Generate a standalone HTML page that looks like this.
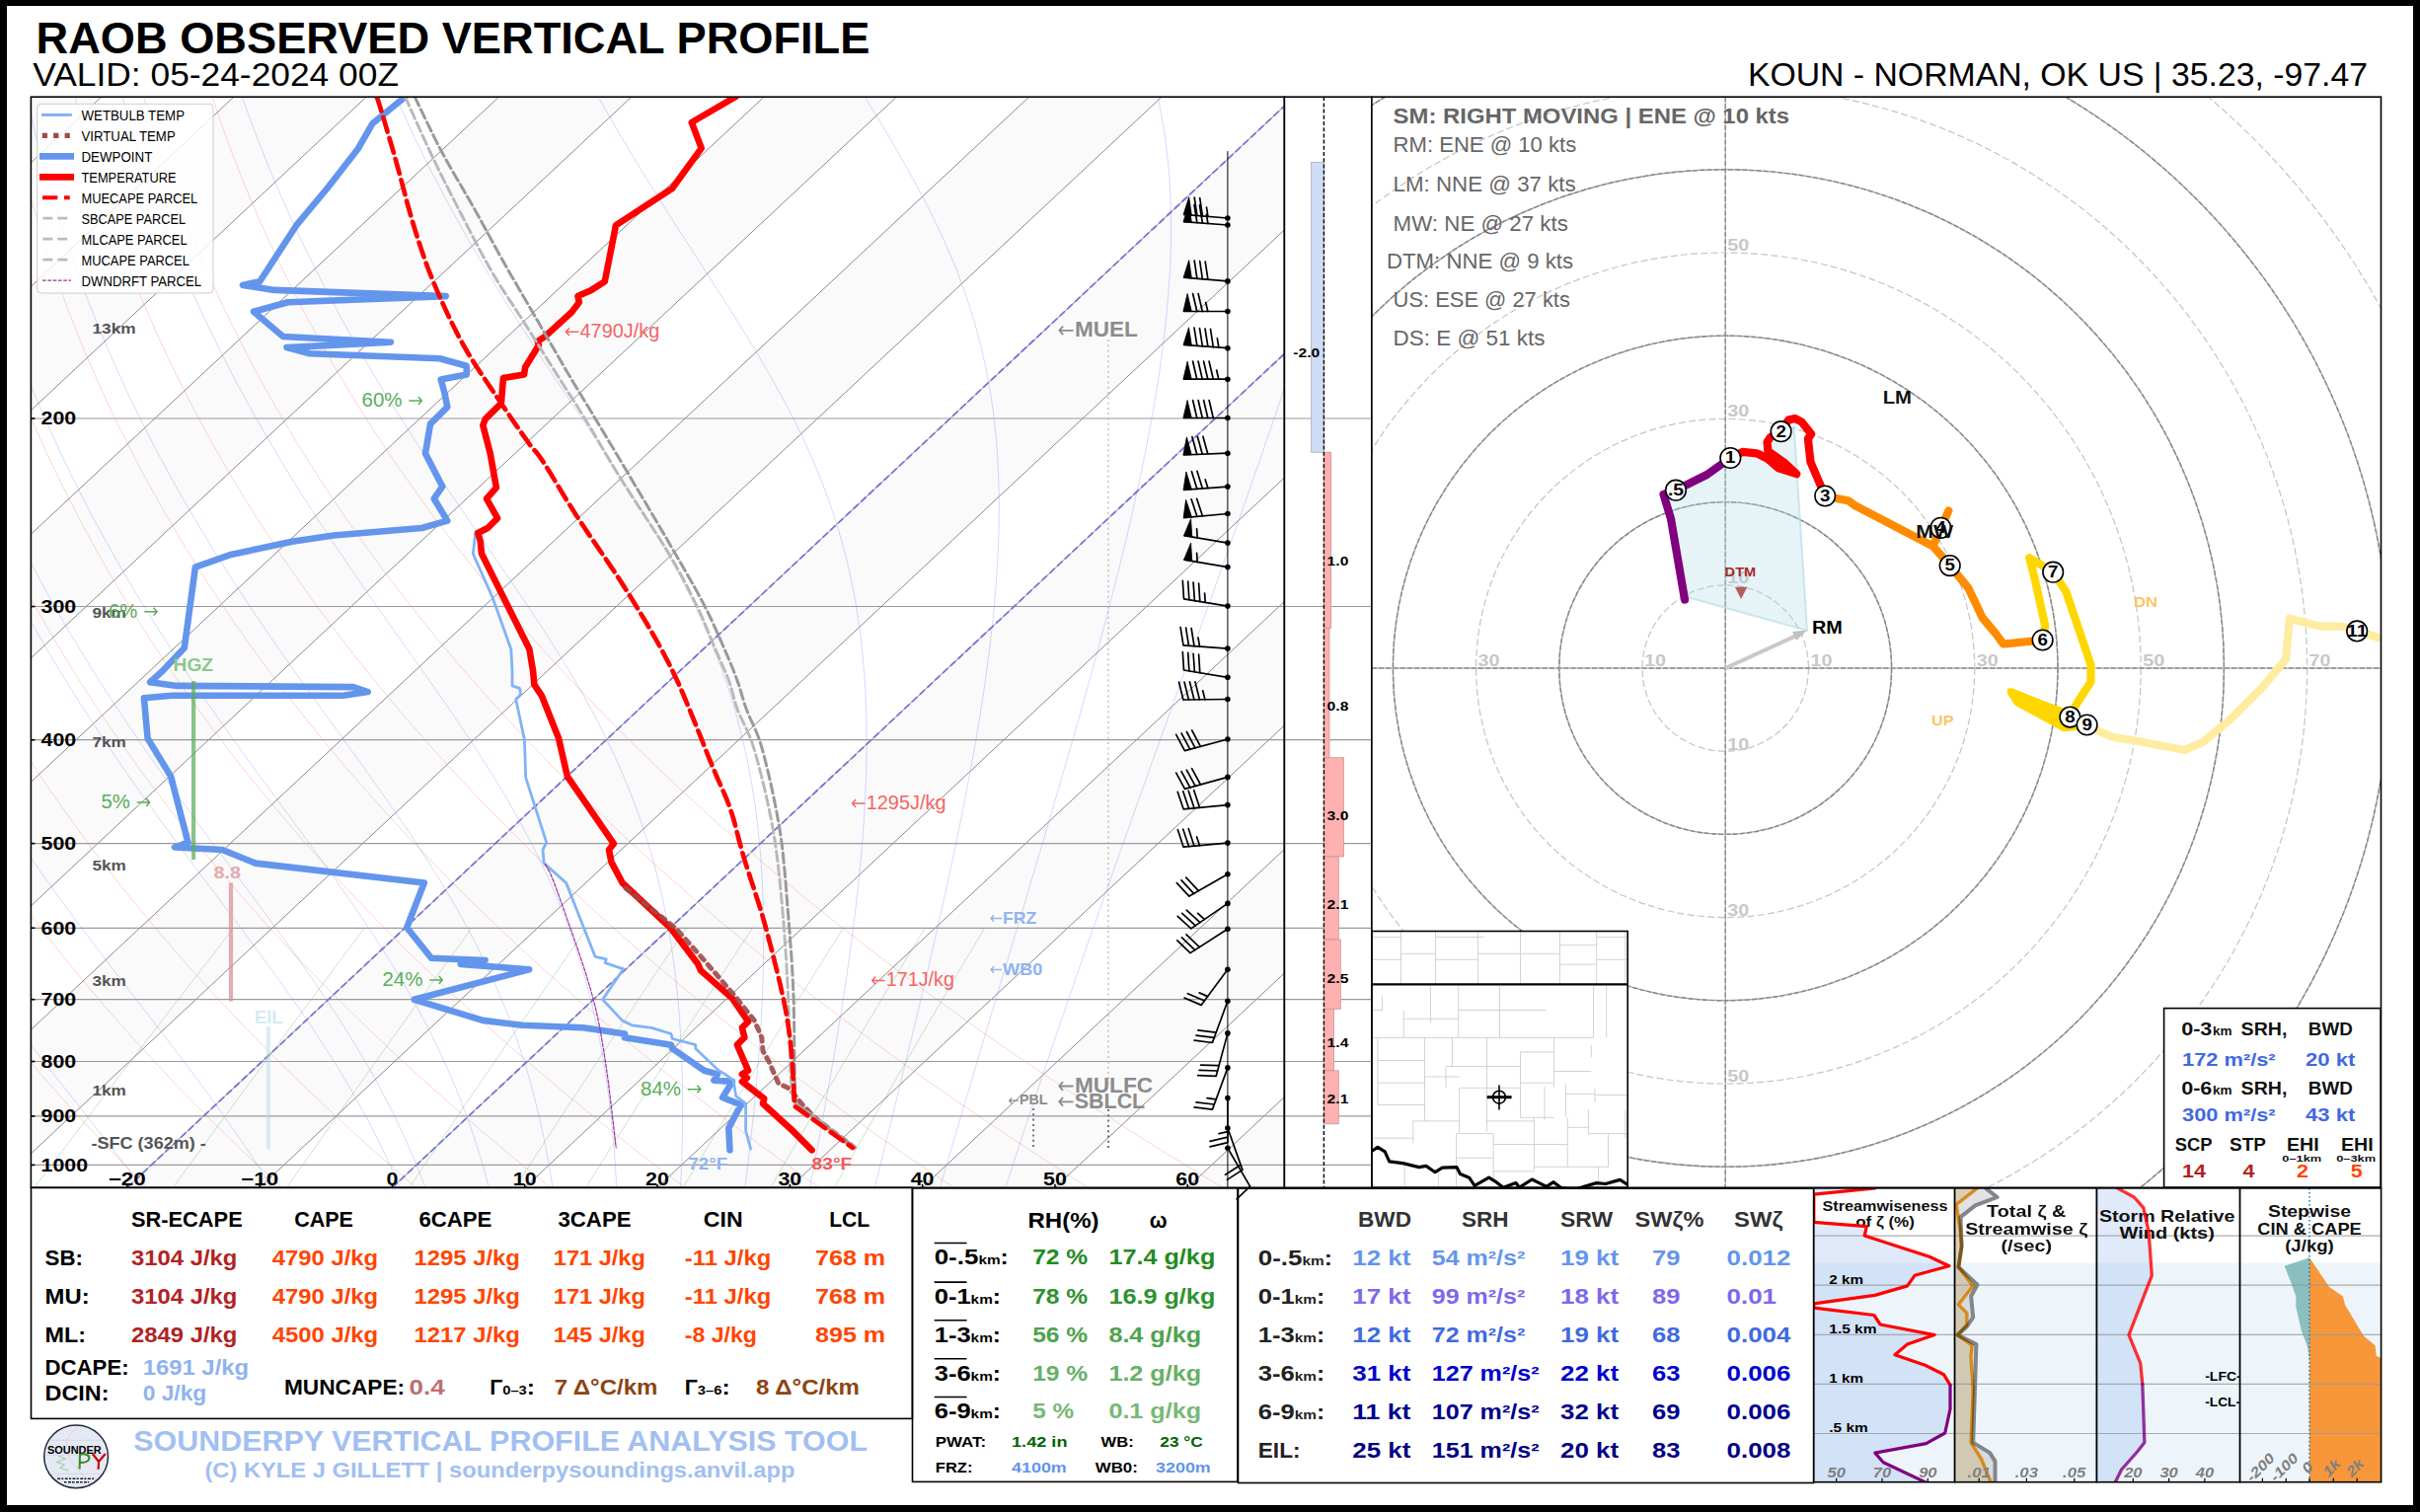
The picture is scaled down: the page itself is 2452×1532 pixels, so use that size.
<!DOCTYPE html>
<html><head><meta charset="utf-8"><title>RAOB Observed Vertical Profile</title><style>html,body{margin:0;padding:0;background:#000;overflow:hidden}svg{display:block}</style></head><body>
<svg xmlns="http://www.w3.org/2000/svg" width="2452" height="1532" viewBox="0 0 2452 1532" font-family="'Liberation Sans', sans-serif">
<rect x="0" y="0" width="2452" height="1532" fill="#000"/>
<rect x="7" y="6" width="2438" height="1519" fill="#fff"/>
<text x="36.5" y="53.8" font-size="43.53" font-weight="bold" fill="#000" textLength="844.9" lengthAdjust="spacingAndGlyphs">RAOB OBSERVED VERTICAL PROFILE</text>
<text x="33.3" y="86.9" font-size="33.29" fill="#000" textLength="370.7" lengthAdjust="spacingAndGlyphs">VALID: 05-24-2024 00Z</text>
<text x="1770.9" y="87.4" font-size="33.29" fill="#000" textLength="628.1" lengthAdjust="spacingAndGlyphs">KOUN - NORMAN, OK US | 35.23, -97.47</text>
<clipPath id="skc"><rect x="31.4" y="98.2" width="1270.0" height="1105.1"/></clipPath>
<g clip-path="url(#skc)">
<rect x="31.4" y="98.2" width="1270.0" height="1105.1" fill="#fff"/>
<polygon points="-1214.2,1203.3 -1079.9,1203.3 102.6,98.2 -31.7,98.2" fill="#fafafa"/>
<polygon points="-945.6,1203.3 -811.3,1203.3 371.2,98.2 236.9,98.2" fill="#fafafa"/>
<polygon points="-677.0,1203.3 -542.7,1203.3 639.8,98.2 505.5,98.2" fill="#fafafa"/>
<polygon points="-408.4,1203.3 -274.1,1203.3 908.4,98.2 774.1,98.2" fill="#fafafa"/>
<polygon points="-139.8,1203.3 -5.5,1203.3 1177.0,98.2 1042.7,98.2" fill="#fafafa"/>
<polygon points="128.8,1203.3 263.1,1203.3 1445.6,98.2 1311.3,98.2" fill="#fafafa"/>
<polygon points="397.4,1203.3 531.7,1203.3 1714.2,98.2 1579.9,98.2" fill="#fafafa"/>
<polygon points="666.0,1203.3 800.3,1203.3 1982.8,98.2 1848.5,98.2" fill="#fafafa"/>
<polygon points="934.6,1203.3 1068.9,1203.3 2251.4,98.2 2117.1,98.2" fill="#fafafa"/>
<polygon points="1203.2,1203.3 1337.5,1203.3 2520.0,98.2 2385.7,98.2" fill="#fafafa"/>
<polyline points="149.3,1203.3 130.9,1184.9 113.0,1166.5 95.4,1148.0 78.3,1129.6 61.6,1111.2 45.3,1092.8 29.4,1074.4 13.9,1056.0 -1.2,1037.5 -15.9,1019.1 -30.3,1000.7 -44.2,982.3 -57.8,963.9 -71.0,945.4 -83.9,927.0 -96.4,908.6 -108.5,890.2 -120.3,871.8 -131.7,853.4 -142.8,834.9 -153.5,816.5 -163.9,798.1 -174.0,779.7 -183.7,761.3 -193.1,742.8 -202.2,724.4 -210.9,706.0 -219.4,687.6 -227.5,669.2 -235.3,650.8 -242.8,632.3 -250.0,613.9 -256.9,595.5 -263.5,577.1 -269.8,558.7 -275.9,540.2 -281.6,521.8 -287.1,503.4 -292.3,485.0 -297.2,466.6 -301.8,448.1 -306.1,429.7 -310.2,411.3 -314.0,392.9 -317.6,374.5 -320.9,356.1 -324.0,337.6 -326.7,319.2 -329.3,300.8 -331.6,282.4 -333.6,264.0 -335.4,245.5 -337.0,227.1 -338.3,208.7 -339.4,190.3 -340.3,171.9 -340.9,153.5 -341.3,135.0 -341.5,116.6 -341.5,98.2" fill="none" stroke="#ff0000" stroke-width="0.8" stroke-linejoin="round" stroke-linecap="round" stroke-opacity="0.22"/>
<polyline points="285.5,1203.3 265.6,1184.9 246.1,1166.5 227.1,1148.0 208.5,1129.6 190.4,1111.2 172.6,1092.8 155.3,1074.4 138.4,1056.0 121.9,1037.5 105.8,1019.1 90.1,1000.7 74.8,982.3 59.9,963.9 45.4,945.4 31.2,927.0 17.5,908.6 4.1,890.2 -8.9,871.8 -21.6,853.4 -33.9,834.9 -45.9,816.5 -57.4,798.1 -68.7,779.7 -79.6,761.3 -90.2,742.8 -100.4,724.4 -110.3,706.0 -119.8,687.6 -129.1,669.2 -138.0,650.8 -146.6,632.3 -154.8,613.9 -162.8,595.5 -170.5,577.1 -177.8,558.7 -184.9,540.2 -191.6,521.8 -198.1,503.4 -204.2,485.0 -210.1,466.6 -215.7,448.1 -221.0,429.7 -226.1,411.3 -230.8,392.9 -235.3,374.5 -239.5,356.1 -243.5,337.6 -247.2,319.2 -250.6,300.8 -253.8,282.4 -256.7,264.0 -259.4,245.5 -261.8,227.1 -263.9,208.7 -265.9,190.3 -267.5,171.9 -269.0,153.5 -270.2,135.0 -271.2,116.6 -271.9,98.2" fill="none" stroke="#ff0000" stroke-width="0.8" stroke-linejoin="round" stroke-linecap="round" stroke-opacity="0.22"/>
<polyline points="421.7,1203.3 400.2,1184.9 379.3,1166.5 358.8,1148.0 338.8,1129.6 319.2,1111.2 300.0,1092.8 281.2,1074.4 262.9,1056.0 245.1,1037.5 227.6,1019.1 210.5,1000.7 193.9,982.3 177.7,963.9 161.8,945.4 146.4,927.0 131.3,908.6 116.7,890.2 102.4,871.8 88.5,853.4 75.0,834.9 61.8,816.5 49.0,798.1 36.6,779.7 24.5,761.3 12.8,742.8 1.4,724.4 -9.6,706.0 -20.3,687.6 -30.6,669.2 -40.6,650.8 -50.3,632.3 -59.7,613.9 -68.7,595.5 -77.4,577.1 -85.8,558.7 -93.9,540.2 -101.6,521.8 -109.1,503.4 -116.2,485.0 -123.1,466.6 -129.7,448.1 -135.9,429.7 -141.9,411.3 -147.6,392.9 -153.0,374.5 -158.2,356.1 -163.0,337.6 -167.6,319.2 -171.9,300.8 -176.0,282.4 -179.8,264.0 -183.3,245.5 -186.5,227.1 -189.5,208.7 -192.3,190.3 -194.8,171.9 -197.0,153.5 -199.1,135.0 -200.8,116.6 -202.4,98.2" fill="none" stroke="#ff0000" stroke-width="0.8" stroke-linejoin="round" stroke-linecap="round" stroke-opacity="0.22"/>
<polyline points="557.8,1203.3 534.9,1184.9 512.5,1166.5 490.5,1148.0 469.0,1129.6 447.9,1111.2 427.3,1092.8 407.2,1074.4 387.5,1056.0 368.2,1037.5 349.4,1019.1 330.9,1000.7 313.0,982.3 295.4,963.9 278.2,945.4 261.5,927.0 245.2,908.6 229.2,890.2 213.7,871.8 198.6,853.4 183.8,834.9 169.4,816.5 155.5,798.1 141.8,779.7 128.6,761.3 115.7,742.8 103.2,724.4 91.1,706.0 79.2,687.6 67.8,669.2 56.7,650.8 45.9,632.3 35.5,613.9 25.4,595.5 15.7,577.1 6.2,558.7 -2.9,540.2 -11.6,521.8 -20.1,503.4 -28.2,485.0 -36.1,466.6 -43.6,448.1 -50.8,429.7 -57.8,411.3 -64.4,392.9 -70.8,374.5 -76.8,356.1 -82.6,337.6 -88.0,319.2 -93.2,300.8 -98.2,282.4 -102.8,264.0 -107.2,245.5 -111.3,227.1 -115.1,208.7 -118.7,190.3 -122.0,171.9 -125.1,153.5 -127.9,135.0 -130.5,116.6 -132.8,98.2" fill="none" stroke="#ff0000" stroke-width="0.8" stroke-linejoin="round" stroke-linecap="round" stroke-opacity="0.22"/>
<polyline points="694.0,1203.3 669.6,1184.9 645.6,1166.5 622.2,1148.0 599.2,1129.6 576.7,1111.2 554.7,1092.8 533.1,1074.4 512.0,1056.0 491.3,1037.5 471.1,1019.1 451.3,1000.7 432.0,982.3 413.1,963.9 394.7,945.4 376.6,927.0 359.0,908.6 341.8,890.2 325.0,871.8 308.7,853.4 292.7,834.9 277.1,816.5 261.9,798.1 247.1,779.7 232.7,761.3 218.7,742.8 205.0,724.4 191.7,706.0 178.8,687.6 166.2,669.2 154.0,650.8 142.2,632.3 130.7,613.9 119.5,595.5 108.7,577.1 98.3,558.7 88.2,540.2 78.4,521.8 68.9,503.4 59.8,485.0 50.9,466.6 42.4,448.1 34.2,429.7 26.4,411.3 18.8,392.9 11.5,374.5 4.6,356.1 -2.1,337.6 -8.5,319.2 -14.6,300.8 -20.4,282.4 -25.9,264.0 -31.1,245.5 -36.1,227.1 -40.7,208.7 -45.2,190.3 -49.3,171.9 -53.2,153.5 -56.8,135.0 -60.1,116.6 -63.2,98.2" fill="none" stroke="#ff0000" stroke-width="0.8" stroke-linejoin="round" stroke-linecap="round" stroke-opacity="0.22"/>
<polyline points="830.2,1203.3 804.3,1184.9 778.8,1166.5 753.9,1148.0 729.4,1129.6 705.5,1111.2 682.0,1092.8 659.0,1074.4 636.5,1056.0 614.4,1037.5 592.9,1019.1 571.8,1000.7 551.1,982.3 530.9,963.9 511.1,945.4 491.8,927.0 472.9,908.6 454.4,890.2 436.4,871.8 418.7,853.4 401.5,834.9 384.7,816.5 368.4,798.1 352.4,779.7 336.8,761.3 321.6,742.8 306.8,724.4 292.4,706.0 278.3,687.6 264.7,669.2 251.4,650.8 238.4,632.3 225.9,613.9 213.7,595.5 201.8,577.1 190.3,558.7 179.2,540.2 168.4,521.8 157.9,503.4 147.8,485.0 138.0,466.6 128.5,448.1 119.3,429.7 110.5,411.3 102.0,392.9 93.8,374.5 85.9,356.1 78.4,337.6 71.1,319.2 64.1,300.8 57.4,282.4 51.1,264.0 45.0,245.5 39.2,227.1 33.7,208.7 28.4,190.3 23.5,171.9 18.8,153.5 14.4,135.0 10.2,116.6 6.3,98.2" fill="none" stroke="#ff0000" stroke-width="0.8" stroke-linejoin="round" stroke-linecap="round" stroke-opacity="0.22"/>
<polyline points="966.4,1203.3 938.9,1184.9 912.0,1166.5 885.6,1148.0 859.6,1129.6 834.2,1111.2 809.3,1092.8 784.9,1074.4 761.0,1056.0 737.6,1037.5 714.6,1019.1 692.2,1000.7 670.2,982.3 648.6,963.9 627.5,945.4 606.9,927.0 586.7,908.6 567.0,890.2 547.7,871.8 528.8,853.4 510.4,834.9 492.4,816.5 474.8,798.1 457.6,779.7 440.9,761.3 424.5,742.8 408.6,724.4 393.0,706.0 377.9,687.6 363.1,669.2 348.7,650.8 334.7,632.3 321.0,613.9 307.8,595.5 294.9,577.1 282.3,558.7 270.2,540.2 258.3,521.8 246.9,503.4 235.8,485.0 225.0,466.6 214.5,448.1 204.4,429.7 194.7,411.3 185.2,392.9 176.1,374.5 167.3,356.1 158.8,337.6 150.7,319.2 142.8,300.8 135.2,282.4 128.0,264.0 121.1,245.5 114.4,227.1 108.0,208.7 102.0,190.3 96.2,171.9 90.7,153.5 85.5,135.0 80.6,116.6 75.9,98.2" fill="none" stroke="#ff0000" stroke-width="0.8" stroke-linejoin="round" stroke-linecap="round" stroke-opacity="0.22"/>
<polyline points="1102.6,1203.3 1073.6,1184.9 1045.1,1166.5 1017.2,1148.0 989.9,1129.6 963.0,1111.2 936.7,1092.8 910.8,1074.4 885.5,1056.0 860.7,1037.5 836.4,1019.1 812.6,1000.7 789.2,982.3 766.3,963.9 744.0,945.4 722.0,927.0 700.6,908.6 679.6,890.2 659.0,871.8 638.9,853.4 619.3,834.9 600.1,816.5 581.3,798.1 562.9,779.7 545.0,761.3 527.5,742.8 510.4,724.4 493.7,706.0 477.4,687.6 461.5,669.2 446.0,650.8 430.9,632.3 416.2,613.9 401.9,595.5 387.9,577.1 374.4,558.7 361.2,540.2 348.3,521.8 335.9,503.4 323.8,485.0 312.0,466.6 300.6,448.1 289.5,429.7 278.8,411.3 268.4,392.9 258.4,374.5 248.7,356.1 239.3,337.6 230.2,319.2 221.5,300.8 213.1,282.4 204.9,264.0 197.1,245.5 189.6,227.1 182.4,208.7 175.6,190.3 169.0,171.9 162.6,153.5 156.6,135.0 150.9,116.6 145.5,98.2" fill="none" stroke="#ff0000" stroke-width="0.8" stroke-linejoin="round" stroke-linecap="round" stroke-opacity="0.22"/>
<polyline points="1238.8,1203.3 1208.3,1184.9 1178.3,1166.5 1148.9,1148.0 1120.1,1129.6 1091.8,1111.2 1064.0,1092.8 1036.8,1074.4 1010.0,1056.0 983.8,1037.5 958.1,1019.1 933.0,1000.7 908.3,982.3 884.1,963.9 860.4,945.4 837.2,927.0 814.4,908.6 792.2,890.2 770.4,871.8 749.0,853.4 728.1,834.9 707.7,816.5 687.7,798.1 668.2,779.7 649.1,761.3 630.4,742.8 612.2,724.4 594.3,706.0 576.9,687.6 559.9,669.2 543.4,650.8 527.2,632.3 511.4,613.9 496.0,595.5 481.0,577.1 466.4,558.7 452.2,540.2 438.3,521.8 424.9,503.4 411.8,485.0 399.0,466.6 386.6,448.1 374.6,429.7 363.0,411.3 351.6,392.9 340.7,374.5 330.0,356.1 319.7,337.6 309.8,319.2 300.2,300.8 290.9,282.4 281.9,264.0 273.2,245.5 264.9,227.1 256.8,208.7 249.1,190.3 241.7,171.9 234.6,153.5 227.8,135.0 221.2,116.6 215.0,98.2" fill="none" stroke="#ff0000" stroke-width="0.8" stroke-linejoin="round" stroke-linecap="round" stroke-opacity="0.22"/>
<polyline points="143.9,1203.3 142.2,1201.1 140.5,1198.8 138.8,1196.5 137.1,1194.3 135.4,1192.0 133.6,1189.7 131.8,1187.4 130.1,1185.0 128.3,1182.7 126.5,1180.4 123.2,1176.1 119.9,1171.8 116.5,1167.5 113.1,1163.1 109.7,1158.7 106.2,1154.3 102.7,1149.8 99.2,1145.3 95.6,1140.7 91.9,1136.0 88.3,1131.4 84.6,1126.7 80.8,1121.9 77.0,1117.1 73.2,1112.2 69.3,1107.3 65.4,1102.3 61.4,1097.3 57.4,1092.2 53.4,1087.1 49.3,1081.9 45.2,1076.7 41.0,1071.4 36.9,1066.0 32.6,1060.6 28.4,1055.1 24.1,1049.5 19.7,1043.9 15.3,1038.2 10.9,1032.5 6.5,1026.6 2.0,1020.7 -2.5,1014.7 -7.1,1008.7 -11.7,1002.6 -16.3,996.3 -20.9,990.0 -25.6,983.7 -30.4,977.2 -35.1,970.6 -39.9,964.0 -44.7,957.2 -49.6,950.4 -54.5,943.4 -59.4,936.4 -64.3,929.2 -69.3,921.9 -74.3,914.5 -79.3,907.0 -84.4,899.4 -89.5,891.6 -94.6,883.8 -99.8,875.7 -104.9,867.6 -110.1,859.3 -115.4,850.8 -120.6,842.2 -125.9,833.5 -131.2,824.5 -136.5,815.4 -141.9,806.1 -147.2,796.7 -152.6,787.0 -158.0,777.1 -163.5,767.0 -168.9,756.7 -174.4,746.2 -179.9,735.4 -185.4,724.4 -190.9,713.1 -196.4,701.5 -202.0,689.7 -207.5,677.5 -213.1,665.0 -218.6,652.1 -224.2,638.9 -229.7,625.4 -235.3,611.4 -240.8,597.0 -246.3,582.1 -251.8,566.7 -257.3,550.9 -262.7,534.4 -268.1,517.4 -273.4,499.8 -278.7,481.4 -283.9,462.3 -289.0,442.4 -294.0,421.6 -298.8,399.9 -303.5,377.1 -308.0,353.1 -312.3,327.8 -316.2,301.1 -319.9,272.8 -323.1,242.7 -325.9,210.5 -328.1,176.0 -329.5,138.7 -330.0,98.2 -330.0,98.2" fill="none" stroke="#0000ff" stroke-width="0.8" stroke-linejoin="round" stroke-linecap="round" stroke-opacity="0.2"/>
<polyline points="275.3,1203.3 273.9,1201.1 272.5,1198.8 271.1,1196.5 269.7,1194.3 268.2,1192.0 266.8,1189.7 265.3,1187.4 263.8,1185.0 262.3,1182.7 260.8,1180.4 258.0,1176.1 255.2,1171.8 252.3,1167.5 249.3,1163.1 246.4,1158.7 243.3,1154.3 240.2,1149.8 237.1,1145.3 233.9,1140.7 230.6,1136.0 227.3,1131.4 223.9,1126.7 220.5,1121.9 217.0,1117.1 213.5,1112.2 209.9,1107.3 206.2,1102.3 202.5,1097.3 198.7,1092.2 194.9,1087.1 191.0,1081.9 187.1,1076.7 183.0,1071.4 179.0,1066.0 174.8,1060.6 170.6,1055.1 166.4,1049.5 162.1,1043.9 157.7,1038.2 153.3,1032.5 148.8,1026.6 144.2,1020.7 139.6,1014.7 134.9,1008.7 130.2,1002.6 125.4,996.3 120.6,990.0 115.7,983.7 110.7,977.2 105.7,970.6 100.7,964.0 95.5,957.2 90.4,950.4 85.1,943.4 79.8,936.4 74.5,929.2 69.1,921.9 63.7,914.5 58.2,907.0 52.7,899.4 47.1,891.6 41.5,883.8 35.8,875.7 30.1,867.6 24.3,859.3 18.5,850.8 12.6,842.2 6.7,833.5 0.8,824.5 -5.2,815.4 -11.2,806.1 -17.3,796.7 -23.4,787.0 -29.5,777.1 -35.7,767.0 -41.9,756.7 -48.2,746.2 -54.5,735.4 -60.8,724.4 -67.1,713.1 -73.5,701.5 -79.9,689.7 -86.3,677.5 -92.8,665.0 -99.3,652.1 -105.8,638.9 -112.3,625.4 -118.8,611.4 -125.4,597.0 -131.9,582.1 -138.5,566.7 -145.0,550.9 -151.6,534.4 -158.1,517.4 -164.6,499.8 -171.1,481.4 -177.5,462.3 -183.9,442.4 -190.2,421.6 -196.4,399.9 -202.5,377.1 -208.5,353.1 -214.2,327.8 -219.8,301.1 -225.1,272.8 -230.1,242.7 -234.6,210.5 -238.7,176.0 -242.1,138.7 -244.8,98.2 -244.8,98.2" fill="none" stroke="#0000ff" stroke-width="0.8" stroke-linejoin="round" stroke-linecap="round" stroke-opacity="0.2"/>
<polyline points="405.1,1203.3 404.1,1201.1 403.2,1198.8 402.2,1196.5 401.2,1194.3 400.2,1192.0 399.2,1189.7 398.2,1187.4 397.2,1185.0 396.1,1182.7 395.1,1180.4 393.1,1176.1 391.1,1171.8 389.1,1167.5 387.0,1163.1 384.8,1158.7 382.6,1154.3 380.4,1149.8 378.1,1145.3 375.7,1140.7 373.3,1136.0 370.8,1131.4 368.3,1126.7 365.7,1121.9 363.0,1117.1 360.2,1112.2 357.4,1107.3 354.6,1102.3 351.6,1097.3 348.6,1092.2 345.5,1087.1 342.4,1081.9 339.1,1076.7 335.8,1071.4 332.4,1066.0 328.9,1060.6 325.4,1055.1 321.7,1049.5 318.0,1043.9 314.2,1038.2 310.3,1032.5 306.3,1026.6 302.3,1020.7 298.1,1014.7 293.9,1008.7 289.5,1002.6 285.1,996.3 280.6,990.0 275.9,983.7 271.2,977.2 266.4,970.6 261.5,964.0 256.5,957.2 251.4,950.4 246.3,943.4 241.0,936.4 235.6,929.2 230.2,921.9 224.6,914.5 219.0,907.0 213.2,899.4 207.4,891.6 201.5,883.8 195.5,875.7 189.4,867.6 183.2,859.3 177.0,850.8 170.6,842.2 164.2,833.5 157.7,824.5 151.1,815.4 144.5,806.1 137.8,796.7 130.9,787.0 124.1,777.1 117.1,767.0 110.1,756.7 103.0,746.2 95.9,735.4 88.7,724.4 81.4,713.1 74.1,701.5 66.7,689.7 59.2,677.5 51.7,665.0 44.2,652.1 36.5,638.9 28.9,625.4 21.2,611.4 13.4,597.0 5.7,582.1 -2.2,566.7 -10.0,550.9 -17.9,534.4 -25.8,517.4 -33.7,499.8 -41.6,481.4 -49.5,462.3 -57.5,442.4 -65.3,421.6 -73.2,399.9 -81.0,377.1 -88.7,353.1 -96.3,327.8 -103.7,301.1 -111.0,272.8 -118.1,242.7 -124.8,210.5 -131.2,176.0 -137.0,138.7 -142.2,98.2 -142.2,98.2" fill="none" stroke="#0000ff" stroke-width="0.8" stroke-linejoin="round" stroke-linecap="round" stroke-opacity="0.2"/>
<polyline points="430.9,1203.3 430.1,1201.1 429.2,1198.8 428.3,1196.5 427.5,1194.3 426.6,1192.0 425.7,1189.7 424.8,1187.4 423.8,1185.0 422.9,1182.7 421.9,1180.4 420.2,1176.1 418.4,1171.8 416.5,1167.5 414.6,1163.1 412.7,1158.7 410.7,1154.3 408.7,1149.8 406.6,1145.3 404.4,1140.7 402.2,1136.0 399.9,1131.4 397.6,1126.7 395.2,1121.9 392.8,1117.1 390.2,1112.2 387.7,1107.3 385.0,1102.3 382.3,1097.3 379.5,1092.2 376.6,1087.1 373.7,1081.9 370.7,1076.7 367.6,1071.4 364.4,1066.0 361.1,1060.6 357.8,1055.1 354.4,1049.5 350.9,1043.9 347.3,1038.2 343.6,1032.5 339.8,1026.6 335.9,1020.7 332.0,1014.7 327.9,1008.7 323.8,1002.6 319.5,996.3 315.2,990.0 310.7,983.7 306.1,977.2 301.5,970.6 296.7,964.0 291.9,957.2 286.9,950.4 281.8,943.4 276.7,936.4 271.4,929.2 266.0,921.9 260.5,914.5 254.9,907.0 249.2,899.4 243.4,891.6 237.5,883.8 231.6,875.7 225.5,867.6 219.3,859.3 213.0,850.8 206.6,842.2 200.1,833.5 193.6,824.5 186.9,815.4 180.1,806.1 173.3,796.7 166.4,787.0 159.4,777.1 152.3,767.0 145.1,756.7 137.9,746.2 130.6,735.4 123.2,724.4 115.7,713.1 108.2,701.5 100.6,689.7 92.9,677.5 85.2,665.0 77.4,652.1 69.5,638.9 61.6,625.4 53.7,611.4 45.7,597.0 37.6,582.1 29.5,566.7 21.3,550.9 13.1,534.4 4.9,517.4 -3.3,499.8 -11.6,481.4 -19.8,462.3 -28.1,442.4 -36.3,421.6 -44.6,399.9 -52.8,377.1 -60.9,353.1 -68.9,327.8 -76.8,301.1 -84.5,272.8 -92.1,242.7 -99.3,210.5 -106.2,176.0 -112.6,138.7 -118.4,98.2 -118.4,98.2" fill="none" stroke="#0000ff" stroke-width="0.8" stroke-linejoin="round" stroke-linecap="round" stroke-opacity="0.2"/>
<polyline points="495.4,1203.3 494.8,1201.1 494.2,1198.8 493.6,1196.5 493.0,1194.3 492.4,1192.0 491.7,1189.7 491.1,1187.4 490.4,1185.0 489.8,1182.7 489.1,1180.4 487.8,1176.1 486.5,1171.8 485.2,1167.5 483.9,1163.1 482.4,1158.7 481.0,1154.3 479.5,1149.8 478.0,1145.3 476.4,1140.7 474.7,1136.0 473.0,1131.4 471.3,1126.7 469.5,1121.9 467.7,1117.1 465.8,1112.2 463.8,1107.3 461.8,1102.3 459.7,1097.3 457.5,1092.2 455.3,1087.1 453.0,1081.9 450.7,1076.7 448.2,1071.4 445.7,1066.0 443.1,1060.6 440.5,1055.1 437.7,1049.5 434.9,1043.9 432.0,1038.2 428.9,1032.5 425.8,1026.6 422.6,1020.7 419.3,1014.7 415.9,1008.7 412.4,1002.6 408.8,996.3 405.1,990.0 401.2,983.7 397.3,977.2 393.2,970.6 389.0,964.0 384.7,957.2 380.3,950.4 375.7,943.4 371.0,936.4 366.2,929.2 361.3,921.9 356.2,914.5 351.0,907.0 345.6,899.4 340.1,891.6 334.5,883.8 328.8,875.7 322.9,867.6 316.8,859.3 310.7,850.8 304.4,842.2 297.9,833.5 291.3,824.5 284.6,815.4 277.8,806.1 270.9,796.7 263.8,787.0 256.6,777.1 249.2,767.0 241.8,756.7 234.2,746.2 226.5,735.4 218.7,724.4 210.8,713.1 202.8,701.5 194.7,689.7 186.5,677.5 178.2,665.0 169.8,652.1 161.3,638.9 152.7,625.4 144.1,611.4 135.3,597.0 126.5,582.1 117.6,566.7 108.7,550.9 99.6,534.4 90.5,517.4 81.4,499.8 72.2,481.4 63.0,462.3 53.8,442.4 44.5,421.6 35.2,399.9 25.9,377.1 16.7,353.1 7.5,327.8 -1.7,301.1 -10.7,272.8 -19.6,242.7 -28.2,210.5 -36.5,176.0 -44.5,138.7 -51.9,98.2 -51.9,98.2" fill="none" stroke="#0000ff" stroke-width="0.8" stroke-linejoin="round" stroke-linecap="round" stroke-opacity="0.2"/>
<polyline points="559.9,1203.3 559.6,1201.1 559.3,1198.8 558.9,1196.5 558.5,1194.3 558.2,1192.0 557.8,1189.7 557.4,1187.4 557.0,1185.0 556.6,1182.7 556.2,1180.4 555.5,1176.1 554.7,1171.8 553.9,1167.5 553.1,1163.1 552.2,1158.7 551.3,1154.3 550.4,1149.8 549.4,1145.3 548.4,1140.7 547.4,1136.0 546.3,1131.4 545.2,1126.7 544.0,1121.9 542.8,1117.1 541.5,1112.2 540.3,1107.3 538.9,1102.3 537.5,1097.3 536.1,1092.2 534.6,1087.1 533.0,1081.9 531.4,1076.7 529.7,1071.4 528.0,1066.0 526.2,1060.6 524.3,1055.1 522.4,1049.5 520.4,1043.9 518.3,1038.2 516.1,1032.5 513.8,1026.6 511.5,1020.7 509.1,1014.7 506.5,1008.7 503.9,1002.6 501.2,996.3 498.4,990.0 495.4,983.7 492.4,977.2 489.2,970.6 485.9,964.0 482.5,957.2 479.0,950.4 475.3,943.4 471.5,936.4 467.6,929.2 463.5,921.9 459.2,914.5 454.8,907.0 450.3,899.4 445.6,891.6 440.7,883.8 435.6,875.7 430.4,867.6 425.0,859.3 419.4,850.8 413.7,842.2 407.7,833.5 401.6,824.5 395.3,815.4 388.8,806.1 382.1,796.7 375.2,787.0 368.2,777.1 360.9,767.0 353.5,756.7 345.9,746.2 338.1,735.4 330.1,724.4 322.0,713.1 313.7,701.5 305.2,689.7 296.5,677.5 287.8,665.0 278.8,652.1 269.7,638.9 260.5,625.4 251.1,611.4 241.6,597.0 232.0,582.1 222.3,566.7 212.4,550.9 202.5,534.4 192.4,517.4 182.3,499.8 172.0,481.4 161.7,462.3 151.3,442.4 140.8,421.6 130.2,399.9 119.7,377.1 109.1,353.1 98.5,327.8 87.9,301.1 77.3,272.8 66.9,242.7 56.6,210.5 46.4,176.0 36.6,138.7 27.2,98.2 27.2,98.2" fill="none" stroke="#0000ff" stroke-width="0.8" stroke-linejoin="round" stroke-linecap="round" stroke-opacity="0.2"/>
<polyline points="624.6,1203.3 624.5,1201.1 624.4,1198.8 624.3,1196.5 624.2,1194.3 624.1,1192.0 623.9,1189.7 623.8,1187.4 623.7,1185.0 623.5,1182.7 623.4,1180.4 623.1,1176.1 622.8,1171.8 622.5,1167.5 622.2,1163.1 621.8,1158.7 621.4,1154.3 621.0,1149.8 620.6,1145.3 620.2,1140.7 619.7,1136.0 619.2,1131.4 618.7,1126.7 618.2,1121.9 617.6,1117.1 617.0,1112.2 616.3,1107.3 615.7,1102.3 615.0,1097.3 614.2,1092.2 613.4,1087.1 612.6,1081.9 611.8,1076.7 610.8,1071.4 609.9,1066.0 608.9,1060.6 607.9,1055.1 606.8,1049.5 605.6,1043.9 604.4,1038.2 603.1,1032.5 601.8,1026.6 600.4,1020.7 599.0,1014.7 597.4,1008.7 595.8,1002.6 594.1,996.3 592.4,990.0 590.5,983.7 588.6,977.2 586.5,970.6 584.4,964.0 582.2,957.2 579.8,950.4 577.3,943.4 574.8,936.4 572.0,929.2 569.2,921.9 566.2,914.5 563.1,907.0 559.8,899.4 556.4,891.6 552.8,883.8 549.0,875.7 545.0,867.6 540.9,859.3 536.6,850.8 532.0,842.2 527.3,833.5 522.3,824.5 517.1,815.4 511.7,806.1 506.0,796.7 500.1,787.0 493.9,777.1 487.5,767.0 480.8,756.7 473.9,746.2 466.7,735.4 459.2,724.4 451.4,713.1 443.4,701.5 435.1,689.7 426.5,677.5 417.7,665.0 408.6,652.1 399.2,638.9 389.7,625.4 379.8,611.4 369.8,597.0 359.5,582.1 349.0,566.7 338.3,550.9 327.4,534.4 316.3,517.4 305.0,499.8 293.6,481.4 282.0,462.3 270.2,442.4 258.3,421.6 246.3,399.9 234.2,377.1 222.0,353.1 209.7,327.8 197.3,301.1 184.9,272.8 172.5,242.7 160.2,210.5 147.9,176.0 135.8,138.7 124.0,98.2 124.0,98.2" fill="none" stroke="#0000ff" stroke-width="0.8" stroke-linejoin="round" stroke-linecap="round" stroke-opacity="0.2"/>
<polyline points="689.6,1203.3 689.7,1201.1 689.8,1198.8 689.9,1196.5 690.0,1194.3 690.1,1192.0 690.2,1189.7 690.3,1187.4 690.4,1185.0 690.5,1182.7 690.5,1180.4 690.7,1176.1 690.8,1171.8 690.9,1167.5 691.1,1163.1 691.2,1158.7 691.3,1154.3 691.4,1149.8 691.4,1145.3 691.5,1140.7 691.5,1136.0 691.6,1131.4 691.6,1126.7 691.6,1121.9 691.6,1117.1 691.6,1112.2 691.5,1107.3 691.5,1102.3 691.4,1097.3 691.3,1092.2 691.2,1087.1 691.0,1081.9 690.9,1076.7 690.7,1071.4 690.4,1066.0 690.2,1060.6 689.9,1055.1 689.6,1049.5 689.3,1043.9 688.9,1038.2 688.5,1032.5 688.1,1026.6 687.6,1020.7 687.1,1014.7 686.5,1008.7 685.9,1002.6 685.2,996.3 684.5,990.0 683.7,983.7 682.9,977.2 682.0,970.6 681.1,964.0 680.0,957.2 679.0,950.4 677.8,943.4 676.5,936.4 675.2,929.2 673.7,921.9 672.2,914.5 670.6,907.0 668.8,899.4 666.9,891.6 664.9,883.8 662.8,875.7 660.5,867.6 658.1,859.3 655.5,850.8 652.8,842.2 649.8,833.5 646.7,824.5 643.4,815.4 639.8,806.1 636.1,796.7 632.0,787.0 627.8,777.1 623.2,767.0 618.4,756.7 613.2,746.2 607.8,735.4 602.0,724.4 595.9,713.1 589.4,701.5 582.5,689.7 575.3,677.5 567.6,665.0 559.6,652.1 551.1,638.9 542.3,625.4 532.9,611.4 523.2,597.0 513.1,582.1 502.5,566.7 491.6,550.9 480.2,534.4 468.5,517.4 456.4,499.8 444.0,481.4 431.2,462.3 418.1,442.4 404.8,421.6 391.1,399.9 377.3,377.1 363.2,353.1 348.8,327.8 334.3,301.1 319.7,272.8 304.9,242.7 290.0,210.5 275.0,176.0 260.1,138.7 245.3,98.2 245.3,98.2" fill="none" stroke="#0000ff" stroke-width="0.8" stroke-linejoin="round" stroke-linecap="round" stroke-opacity="0.2"/>
<polyline points="754.8,1203.3 755.1,1201.1 755.4,1198.8 755.7,1196.5 756.0,1194.3 756.3,1192.0 756.6,1189.7 756.8,1187.4 757.1,1185.0 757.4,1182.7 757.7,1180.4 758.2,1176.1 758.7,1171.8 759.2,1167.5 759.7,1163.1 760.2,1158.7 760.7,1154.3 761.2,1149.8 761.7,1145.3 762.2,1140.7 762.7,1136.0 763.2,1131.4 763.7,1126.7 764.2,1121.9 764.6,1117.1 765.1,1112.2 765.6,1107.3 766.0,1102.3 766.5,1097.3 766.9,1092.2 767.4,1087.1 767.8,1081.9 768.2,1076.7 768.7,1071.4 769.1,1066.0 769.5,1060.6 769.9,1055.1 770.2,1049.5 770.6,1043.9 770.9,1038.2 771.3,1032.5 771.6,1026.6 771.9,1020.7 772.2,1014.7 772.5,1008.7 772.7,1002.6 772.9,996.3 773.1,990.0 773.3,983.7 773.5,977.2 773.6,970.6 773.7,964.0 773.7,957.2 773.7,950.4 773.7,943.4 773.7,936.4 773.6,929.2 773.4,921.9 773.2,914.5 772.9,907.0 772.6,899.4 772.2,891.6 771.8,883.8 771.3,875.7 770.7,867.6 770.0,859.3 769.2,850.8 768.3,842.2 767.3,833.5 766.2,824.5 765.0,815.4 763.6,806.1 762.1,796.7 760.4,787.0 758.5,777.1 756.5,767.0 754.2,756.7 751.7,746.2 749.0,735.4 746.0,724.4 742.8,713.1 739.2,701.5 735.2,689.7 731.0,677.5 726.3,665.0 721.2,652.1 715.6,638.9 709.6,625.4 703.0,611.4 695.8,597.0 688.1,582.1 679.7,566.7 670.7,550.9 661.0,534.4 650.6,517.4 639.5,499.8 627.7,481.4 615.2,462.3 601.9,442.4 588.0,421.6 573.4,399.9 558.2,377.1 542.5,353.1 526.2,327.8 509.4,301.1 492.1,272.8 474.5,242.7 456.5,210.5 438.2,176.0 419.7,138.7 401.1,98.2 401.1,98.2" fill="none" stroke="#0000ff" stroke-width="0.8" stroke-linejoin="round" stroke-linecap="round" stroke-opacity="0.2"/>
<polyline points="820.4,1203.3 820.9,1201.1 821.3,1198.8 821.7,1196.5 822.2,1194.3 822.6,1192.0 823.1,1189.7 823.5,1187.4 823.9,1185.0 824.4,1182.7 824.8,1180.4 825.6,1176.1 826.5,1171.8 827.3,1167.5 828.1,1163.1 828.9,1158.7 829.8,1154.3 830.6,1149.8 831.5,1145.3 832.3,1140.7 833.2,1136.0 834.0,1131.4 834.9,1126.7 835.8,1121.9 836.6,1117.1 837.5,1112.2 838.4,1107.3 839.3,1102.3 840.2,1097.3 841.1,1092.2 842.0,1087.1 842.9,1081.9 843.8,1076.7 844.7,1071.4 845.6,1066.0 846.5,1060.6 847.4,1055.1 848.4,1049.5 849.3,1043.9 850.2,1038.2 851.1,1032.5 852.1,1026.6 853.0,1020.7 853.9,1014.7 854.9,1008.7 855.8,1002.6 856.7,996.3 857.7,990.0 858.6,983.7 859.5,977.2 860.5,970.6 861.4,964.0 862.3,957.2 863.2,950.4 864.1,943.4 865.0,936.4 865.9,929.2 866.8,921.9 867.6,914.5 868.5,907.0 869.3,899.4 870.1,891.6 870.9,883.8 871.7,875.7 872.5,867.6 873.2,859.3 873.9,850.8 874.5,842.2 875.2,833.5 875.7,824.5 876.3,815.4 876.8,806.1 877.2,796.7 877.5,787.0 877.8,777.1 878.0,767.0 878.1,756.7 878.1,746.2 878.0,735.4 877.8,724.4 877.4,713.1 876.9,701.5 876.2,689.7 875.3,677.5 874.2,665.0 872.9,652.1 871.3,638.9 869.3,625.4 867.1,611.4 864.4,597.0 861.3,582.1 857.7,566.7 853.6,550.9 848.8,534.4 843.4,517.4 837.1,499.8 830.0,481.4 822.0,462.3 812.9,442.4 802.6,421.6 791.1,399.9 778.3,377.1 764.2,353.1 748.7,327.8 731.8,301.1 713.6,272.8 694.1,242.7 673.5,210.5 651.9,176.0 629.4,138.7 606.1,98.2 606.1,98.2" fill="none" stroke="#0000ff" stroke-width="0.8" stroke-linejoin="round" stroke-linecap="round" stroke-opacity="0.2"/>
<polyline points="886.3,1203.3 886.9,1201.1 887.4,1198.8 888.0,1196.5 888.5,1194.3 889.1,1192.0 889.7,1189.7 890.3,1187.4 890.8,1185.0 891.4,1182.7 892.0,1180.4 893.0,1176.1 894.1,1171.8 895.2,1167.5 896.3,1163.1 897.3,1158.7 898.4,1154.3 899.6,1149.8 900.7,1145.3 901.8,1140.7 903.0,1136.0 904.1,1131.4 905.3,1126.7 906.5,1121.9 907.6,1117.1 908.8,1112.2 910.0,1107.3 911.3,1102.3 912.5,1097.3 913.7,1092.2 915.0,1087.1 916.3,1081.9 917.6,1076.7 918.8,1071.4 920.2,1066.0 921.5,1060.6 922.8,1055.1 924.1,1049.5 925.5,1043.9 926.9,1038.2 928.3,1032.5 929.7,1026.6 931.1,1020.7 932.5,1014.7 933.9,1008.7 935.4,1002.6 936.9,996.3 938.4,990.0 939.9,983.7 941.4,977.2 942.9,970.6 944.5,964.0 946.0,957.2 947.6,950.4 949.2,943.4 950.8,936.4 952.4,929.2 954.1,921.9 955.7,914.5 957.4,907.0 959.1,899.4 960.8,891.6 962.5,883.8 964.2,875.7 965.9,867.6 967.7,859.3 969.5,850.8 971.2,842.2 973.0,833.5 974.8,824.5 976.6,815.4 978.5,806.1 980.3,796.7 982.1,787.0 983.9,777.1 985.8,767.0 987.6,756.7 989.4,746.2 991.2,735.4 993.1,724.4 994.8,713.1 996.6,701.5 998.3,689.7 1000.0,677.5 1001.7,665.0 1003.3,652.1 1004.8,638.9 1006.3,625.4 1007.6,611.4 1008.8,597.0 1009.9,582.1 1010.9,566.7 1011.6,550.9 1012.1,534.4 1012.3,517.4 1012.2,499.8 1011.7,481.4 1010.7,462.3 1009.2,442.4 1006.9,421.6 1003.9,399.9 999.8,377.1 994.5,353.1 987.8,327.8 979.4,301.1 969.0,272.8 956.2,242.7 940.7,210.5 922.3,176.0 900.9,138.7 876.4,98.2 876.4,98.2" fill="none" stroke="#0000ff" stroke-width="0.8" stroke-linejoin="round" stroke-linecap="round" stroke-opacity="0.2"/>
<polyline points="952.4,1203.3 953.1,1201.1 953.8,1198.8 954.4,1196.5 955.1,1194.3 955.7,1192.0 956.4,1189.7 957.1,1187.4 957.8,1185.0 958.5,1182.7 959.1,1180.4 960.4,1176.1 961.6,1171.8 962.9,1167.5 964.2,1163.1 965.5,1158.7 966.8,1154.3 968.1,1149.8 969.4,1145.3 970.8,1140.7 972.2,1136.0 973.5,1131.4 974.9,1126.7 976.4,1121.9 977.8,1117.1 979.2,1112.2 980.7,1107.3 982.2,1102.3 983.6,1097.3 985.2,1092.2 986.7,1087.1 988.2,1081.9 989.8,1076.7 991.4,1071.4 993.0,1066.0 994.6,1060.6 996.2,1055.1 997.9,1049.5 999.6,1043.9 1001.3,1038.2 1003.0,1032.5 1004.8,1026.6 1006.5,1020.7 1008.3,1014.7 1010.1,1008.7 1012.0,1002.6 1013.8,996.3 1015.7,990.0 1017.7,983.7 1019.6,977.2 1021.6,970.6 1023.6,964.0 1025.6,957.2 1027.6,950.4 1029.7,943.4 1031.8,936.4 1034.0,929.2 1036.2,921.9 1038.4,914.5 1040.6,907.0 1042.9,899.4 1045.2,891.6 1047.6,883.8 1050.0,875.7 1052.4,867.6 1054.9,859.3 1057.4,850.8 1059.9,842.2 1062.5,833.5 1065.1,824.5 1067.8,815.4 1070.5,806.1 1073.3,796.7 1076.1,787.0 1079.0,777.1 1081.9,767.0 1084.9,756.7 1087.9,746.2 1091.0,735.4 1094.1,724.4 1097.3,713.1 1100.5,701.5 1103.8,689.7 1107.2,677.5 1110.6,665.0 1114.1,652.1 1117.6,638.9 1121.2,625.4 1124.8,611.4 1128.5,597.0 1132.3,582.1 1136.1,566.7 1140.0,550.9 1143.9,534.4 1147.8,517.4 1151.7,499.8 1155.7,481.4 1159.6,462.3 1163.5,442.4 1167.4,421.6 1171.1,399.9 1174.7,377.1 1178.1,353.1 1181.1,327.8 1183.6,301.1 1185.6,272.8 1186.6,242.7 1186.5,210.5 1184.7,176.0 1180.6,138.7 1173.3,98.2 1173.3,98.2" fill="none" stroke="#0000ff" stroke-width="0.8" stroke-linejoin="round" stroke-linecap="round" stroke-opacity="0.2"/>
<polyline points="1018.8,1203.3 1019.6,1201.1 1020.3,1198.8 1021.0,1196.5 1021.8,1194.3 1022.5,1192.0 1023.3,1189.7 1024.0,1187.4 1024.8,1185.0 1025.5,1182.7 1026.3,1180.4 1027.7,1176.1 1029.1,1171.8 1030.5,1167.5 1031.9,1163.1 1033.4,1158.7 1034.8,1154.3 1036.3,1149.8 1037.8,1145.3 1039.3,1140.7 1040.9,1136.0 1042.4,1131.4 1044.0,1126.7 1045.6,1121.9 1047.2,1117.1 1048.8,1112.2 1050.4,1107.3 1052.1,1102.3 1053.8,1097.3 1055.5,1092.2 1057.2,1087.1 1059.0,1081.9 1060.7,1076.7 1062.5,1071.4 1064.3,1066.0 1066.2,1060.6 1068.1,1055.1 1069.9,1049.5 1071.9,1043.9 1073.8,1038.2 1075.8,1032.5 1077.8,1026.6 1079.8,1020.7 1081.9,1014.7 1083.9,1008.7 1086.1,1002.6 1088.2,996.3 1090.4,990.0 1092.6,983.7 1094.8,977.2 1097.1,970.6 1099.4,964.0 1101.8,957.2 1104.2,950.4 1106.6,943.4 1109.1,936.4 1111.6,929.2 1114.2,921.9 1116.8,914.5 1119.4,907.0 1122.1,899.4 1124.8,891.6 1127.6,883.8 1130.5,875.7 1133.3,867.6 1136.3,859.3 1139.3,850.8 1142.4,842.2 1145.5,833.5 1148.7,824.5 1151.9,815.4 1155.2,806.1 1158.6,796.7 1162.1,787.0 1165.6,777.1 1169.2,767.0 1172.9,756.7 1176.7,746.2 1180.6,735.4 1184.6,724.4 1188.6,713.1 1192.8,701.5 1197.1,689.7 1201.4,677.5 1205.9,665.0 1210.5,652.1 1215.3,638.9 1220.1,625.4 1225.2,611.4 1230.3,597.0 1235.6,582.1 1241.1,566.7 1246.7,550.9 1252.5,534.4 1258.6,517.4 1264.8,499.8 1271.2,481.4 1277.8,462.3 1284.7,442.4 1291.8,421.6 1299.2,399.9 1306.8,377.1 1314.7,353.1 1323.0,327.8 1331.5,301.1 1340.3,272.8 1349.4,242.7 1358.8,210.5 1368.4,176.0 1378.1,138.7 1387.8,98.2 1387.8,98.2" fill="none" stroke="#0000ff" stroke-width="0.8" stroke-linejoin="round" stroke-linecap="round" stroke-opacity="0.2"/>
<polyline points="236.6,940.3 223.2,957.6 210.3,974.3 197.8,990.4 185.8,1006.0 174.2,1021.1 162.9,1035.7 152.0,1049.8 141.4,1063.6 131.2,1077.0 121.2,1090.0 111.5,1102.6 102.1,1114.9 93.0,1126.9 84.0,1138.6 75.3,1150.0 66.8,1161.2 58.5,1172.1 50.4,1182.7 42.5,1193.1 34.8,1203.3" fill="none" stroke="#008000" stroke-width="0.7" stroke-linejoin="round" stroke-linecap="round" stroke-opacity="0.3"/>
<polyline points="369.2,940.3 356.3,957.6 343.9,974.3 331.9,990.4 320.3,1006.0 309.1,1021.1 298.3,1035.7 287.8,1049.8 277.6,1063.6 267.8,1077.0 258.2,1090.0 248.9,1102.6 239.8,1114.9 231.0,1126.9 222.4,1138.6 214.1,1150.0 205.9,1161.2 198.0,1172.1 190.2,1182.7 182.6,1193.1 175.2,1203.3" fill="none" stroke="#008000" stroke-width="0.7" stroke-linejoin="round" stroke-linecap="round" stroke-opacity="0.3"/>
<polyline points="478.0,940.3 465.5,957.6 453.4,974.3 441.8,990.4 430.6,1006.0 419.8,1021.1 409.4,1035.7 399.2,1049.8 389.4,1063.6 379.9,1077.0 370.6,1090.0 361.7,1102.6 352.9,1114.9 344.4,1126.9 336.1,1138.6 328.1,1150.0 320.2,1161.2 312.5,1172.1 305.0,1182.7 297.7,1193.1 290.6,1203.3" fill="none" stroke="#008000" stroke-width="0.7" stroke-linejoin="round" stroke-linecap="round" stroke-opacity="0.3"/>
<polyline points="594.7,940.3 582.7,957.6 571.1,974.3 560.0,990.4 549.2,1006.0 538.8,1021.1 528.7,1035.7 519.0,1049.8 509.6,1063.6 500.4,1077.0 491.5,1090.0 482.9,1102.6 474.5,1114.9 466.4,1126.9 458.4,1138.6 450.7,1150.0 443.1,1161.2 435.8,1172.1 428.6,1182.7 421.6,1193.1 414.8,1203.3" fill="none" stroke="#008000" stroke-width="0.7" stroke-linejoin="round" stroke-linecap="round" stroke-opacity="0.3"/>
<polyline points="695.3,940.3 683.7,957.6 672.5,974.3 661.7,990.4 651.3,1006.0 641.3,1021.1 631.6,1035.7 622.2,1049.8 613.1,1063.6 604.3,1077.0 595.8,1090.0 587.5,1102.6 579.4,1114.9 571.5,1126.9 563.9,1138.6 556.5,1150.0 549.2,1161.2 542.1,1172.1 535.2,1182.7 528.5,1193.1 521.9,1203.3" fill="none" stroke="#008000" stroke-width="0.7" stroke-linejoin="round" stroke-linecap="round" stroke-opacity="0.3"/>
<polyline points="762.4,940.3 751.1,957.6 740.2,974.3 729.7,990.4 719.6,1006.0 709.8,1021.1 700.3,1035.7 691.2,1049.8 682.3,1063.6 673.8,1077.0 665.4,1090.0 657.3,1102.6 649.5,1114.9 641.8,1126.9 634.4,1138.6 627.2,1150.0 620.1,1161.2 613.2,1172.1 606.5,1182.7 600.0,1193.1 593.6,1203.3" fill="none" stroke="#008000" stroke-width="0.7" stroke-linejoin="round" stroke-linecap="round" stroke-opacity="0.3"/>
<polyline points="854.5,940.3 843.6,957.6 833.1,974.3 823.0,990.4 813.2,1006.0 803.8,1021.1 794.7,1035.7 785.9,1049.8 777.4,1063.6 769.1,1077.0 761.1,1090.0 753.3,1102.6 745.8,1114.9 738.4,1126.9 731.3,1138.6 724.3,1150.0 717.5,1161.2 710.9,1172.1 704.5,1182.7 698.2,1193.1 692.1,1203.3" fill="none" stroke="#008000" stroke-width="0.7" stroke-linejoin="round" stroke-linecap="round" stroke-opacity="0.3"/>
<polyline points="937.2,940.3 926.7,957.6 916.5,974.3 906.7,990.4 897.3,1006.0 888.2,1021.1 879.4,1035.7 871.0,1049.8 862.7,1063.6 854.8,1077.0 847.1,1090.0 839.6,1102.6 832.3,1114.9 825.2,1126.9 818.3,1138.6 811.7,1150.0 805.1,1161.2 798.8,1172.1 792.6,1182.7 786.6,1193.1 780.7,1203.3" fill="none" stroke="#008000" stroke-width="0.7" stroke-linejoin="round" stroke-linecap="round" stroke-opacity="0.3"/>
<polyline points="997.6,940.3 987.3,957.6 977.4,974.3 967.9,990.4 958.7,1006.0 949.9,1021.1 941.3,1035.7 933.1,1049.8 925.1,1063.6 917.4,1077.0 909.8,1090.0 902.6,1102.6 895.5,1114.9 888.6,1126.9 882.0,1138.6 875.5,1150.0 869.1,1161.2 863.0,1172.1 857.0,1182.7 851.1,1193.1 845.4,1203.3" fill="none" stroke="#008000" stroke-width="0.7" stroke-linejoin="round" stroke-linecap="round" stroke-opacity="0.3"/>
<line x1="-1348.5" y1="1203.3" x2="-166.0" y2="98.2" stroke="#8a8a8a" stroke-width="1"/>
<line x1="-1214.2" y1="1203.3" x2="-31.7" y2="98.2" stroke="#8a8a8a" stroke-width="1"/>
<line x1="-1079.9" y1="1203.3" x2="102.6" y2="98.2" stroke="#8a8a8a" stroke-width="1"/>
<line x1="-945.6" y1="1203.3" x2="236.9" y2="98.2" stroke="#8a8a8a" stroke-width="1"/>
<line x1="-811.3" y1="1203.3" x2="371.2" y2="98.2" stroke="#8a8a8a" stroke-width="1"/>
<line x1="-677.0" y1="1203.3" x2="505.5" y2="98.2" stroke="#8a8a8a" stroke-width="1"/>
<line x1="-542.7" y1="1203.3" x2="639.8" y2="98.2" stroke="#8a8a8a" stroke-width="1"/>
<line x1="-408.4" y1="1203.3" x2="774.1" y2="98.2" stroke="#8a8a8a" stroke-width="1"/>
<line x1="-274.1" y1="1203.3" x2="908.4" y2="98.2" stroke="#8a8a8a" stroke-width="1"/>
<line x1="-139.8" y1="1203.3" x2="1042.7" y2="98.2" stroke="#8a8a8a" stroke-width="1"/>
<line x1="-5.5" y1="1203.3" x2="1177.0" y2="98.2" stroke="#8a8a8a" stroke-width="1"/>
<line x1="128.8" y1="1203.3" x2="1311.3" y2="98.2" stroke="#8a8a8a" stroke-width="1"/>
<line x1="263.1" y1="1203.3" x2="1445.6" y2="98.2" stroke="#8a8a8a" stroke-width="1"/>
<line x1="397.4" y1="1203.3" x2="1579.9" y2="98.2" stroke="#8a8a8a" stroke-width="1"/>
<line x1="531.7" y1="1203.3" x2="1714.2" y2="98.2" stroke="#8a8a8a" stroke-width="1"/>
<line x1="666.0" y1="1203.3" x2="1848.5" y2="98.2" stroke="#8a8a8a" stroke-width="1"/>
<line x1="800.3" y1="1203.3" x2="1982.8" y2="98.2" stroke="#8a8a8a" stroke-width="1"/>
<line x1="934.6" y1="1203.3" x2="2117.1" y2="98.2" stroke="#8a8a8a" stroke-width="1"/>
<line x1="1068.9" y1="1203.3" x2="2251.4" y2="98.2" stroke="#8a8a8a" stroke-width="1"/>
<line x1="1203.2" y1="1203.3" x2="2385.7" y2="98.2" stroke="#8a8a8a" stroke-width="1"/>
<line x1="1337.5" y1="1203.3" x2="2520.0" y2="98.2" stroke="#8a8a8a" stroke-width="1"/>
<line x1="31.4" y1="1180.4" x2="1301.4" y2="1180.4" stroke="#9a9a9a" stroke-width="1.2"/>
<line x1="31.4" y1="1130.9" x2="1301.4" y2="1130.9" stroke="#9a9a9a" stroke-width="1.2"/>
<line x1="31.4" y1="1075.5" x2="1301.4" y2="1075.5" stroke="#9a9a9a" stroke-width="1.2"/>
<line x1="31.4" y1="1012.7" x2="1301.4" y2="1012.7" stroke="#9a9a9a" stroke-width="1.2"/>
<line x1="31.4" y1="940.3" x2="1301.4" y2="940.3" stroke="#9a9a9a" stroke-width="1.2"/>
<line x1="31.4" y1="854.6" x2="1301.4" y2="854.6" stroke="#9a9a9a" stroke-width="1.2"/>
<line x1="31.4" y1="749.7" x2="1301.4" y2="749.7" stroke="#9a9a9a" stroke-width="1.2"/>
<line x1="31.4" y1="614.5" x2="1301.4" y2="614.5" stroke="#9a9a9a" stroke-width="1.2"/>
<line x1="31.4" y1="424.0" x2="1301.4" y2="424.0" stroke="#9a9a9a" stroke-width="1.2"/>
<line x1="397.4" y1="1203.3" x2="1579.9" y2="98.2" stroke="#7474d8" stroke-width="1.8" stroke-dasharray="7.3,3.3"/>
<line x1="128.8" y1="1203.3" x2="1311.3" y2="98.2" stroke="#7474d8" stroke-width="1.8" stroke-dasharray="7.3,3.3"/>
</g>
<g clip-path="url(#skc)">
<text x="93.4" y="338.0" font-size="15.02" font-weight="bold" fill="#555" textLength="44.3" lengthAdjust="spacingAndGlyphs">13km</text>
<text x="93.4" y="625.8" font-size="15.02" font-weight="bold" fill="#555" textLength="34.4" lengthAdjust="spacingAndGlyphs">9km</text>
<text x="93.4" y="756.9" font-size="15.02" font-weight="bold" fill="#555" textLength="34.4" lengthAdjust="spacingAndGlyphs">7km</text>
<text x="93.4" y="882.0" font-size="15.02" font-weight="bold" fill="#555" textLength="34.4" lengthAdjust="spacingAndGlyphs">5km</text>
<text x="93.4" y="999.0" font-size="15.02" font-weight="bold" fill="#555" textLength="34.4" lengthAdjust="spacingAndGlyphs">3km</text>
<text x="93.4" y="1109.6" font-size="15.02" font-weight="bold" fill="#555" textLength="34.4" lengthAdjust="spacingAndGlyphs">1km</text>
<text x="92.5" y="1163.9" font-size="15.86" font-weight="bold" fill="#555" textLength="116.3" lengthAdjust="spacingAndGlyphs">-SFC (362m) -</text>
<text x="366.5" y="411.8" font-size="19.32" fill="#5aad5a" textLength="46.7" lengthAdjust="spacingAndGlyphs" xml:space="preserve">60% </text><path d="M414.4,406.0L427.3,406.0M423.9,402.1L427.3,406.0L423.9,409.9" fill="none" stroke="#5aad5a" stroke-width="1.47" stroke-linejoin="miter" stroke-linecap="butt"/>
<text x="110.0" y="625.5" font-size="19.32" fill="#5aad5a" textLength="35.0" lengthAdjust="spacingAndGlyphs" xml:space="preserve">6% </text><path d="M146.2,619.7L159.1,619.7M155.7,615.8L159.1,619.7L155.7,623.6" fill="none" stroke="#5aad5a" stroke-width="1.47" stroke-linejoin="miter" stroke-linecap="butt"/>
<text x="102.5" y="818.8" font-size="19.32" fill="#5aad5a" textLength="35.0" lengthAdjust="spacingAndGlyphs" xml:space="preserve">5% </text><path d="M138.7,813.0L151.6,813.0M148.2,809.1L151.6,813.0L148.2,816.9" fill="none" stroke="#5aad5a" stroke-width="1.47" stroke-linejoin="miter" stroke-linecap="butt"/>
<text x="387.4" y="998.7" font-size="19.32" fill="#5aad5a" textLength="46.7" lengthAdjust="spacingAndGlyphs" xml:space="preserve">24% </text><path d="M435.3,992.9L448.2,992.9M444.8,989.0L448.2,992.9L444.8,996.8" fill="none" stroke="#5aad5a" stroke-width="1.47" stroke-linejoin="miter" stroke-linecap="butt"/>
<text x="649.0" y="1109.5" font-size="19.32" fill="#5aad5a" textLength="46.7" lengthAdjust="spacingAndGlyphs" xml:space="preserve">84% </text><path d="M696.9,1103.7L709.8,1103.7M706.4,1099.8L709.8,1103.7L706.4,1107.6" fill="none" stroke="#5aad5a" stroke-width="1.47" stroke-linejoin="miter" stroke-linecap="butt"/>
<path d="M586.3,336.2L573.4,336.2M576.9,332.3L573.4,336.2L576.9,340.1" fill="none" stroke="#f46464" stroke-width="1.47" stroke-linejoin="miter" stroke-linecap="butt"/><text x="587.5" y="342.0" font-size="19.32" fill="#f46464" textLength="80.8" lengthAdjust="spacingAndGlyphs" xml:space="preserve">4790J/kg</text>
<path d="M876.5,814.0L863.6,814.0M867.1,810.1L863.6,814.0L867.1,817.9" fill="none" stroke="#f46464" stroke-width="1.47" stroke-linejoin="miter" stroke-linecap="butt"/><text x="877.7" y="819.8" font-size="19.32" fill="#f46464" textLength="80.8" lengthAdjust="spacingAndGlyphs" xml:space="preserve">1295J/kg</text>
<path d="M896.6,993.4L883.7,993.4M887.2,989.5L883.7,993.4L887.2,997.3" fill="none" stroke="#f46464" stroke-width="1.47" stroke-linejoin="miter" stroke-linecap="butt"/><text x="897.8" y="999.2" font-size="19.32" fill="#f46464" textLength="69.1" lengthAdjust="spacingAndGlyphs" xml:space="preserve">171J/kg</text>
<line x1="1123" y1="344" x2="1123" y2="1100" stroke="#b0b0b0" stroke-width="2" stroke-dasharray="2,3.3" stroke-opacity="0.6"/>
<line x1="1123" y1="1124" x2="1123" y2="1163" stroke="#707070" stroke-width="2" stroke-dasharray="2,3.3"/>
<line x1="1047.1" y1="1123" x2="1047.1" y2="1163" stroke="#707070" stroke-width="2" stroke-dasharray="2,3.3"/>
<path d="M1087.6,334.8L1073.4,334.8M1077.1,330.5L1073.4,334.8L1077.1,339.1" fill="none" stroke="#8c8c8c" stroke-width="1.84" stroke-linejoin="miter" stroke-linecap="butt"/><text x="1088.9" y="341.2" font-size="21.47" font-weight="bold" fill="#8c8c8c" textLength="64.0" lengthAdjust="spacingAndGlyphs" xml:space="preserve">MUEL</text>
<path d="M1087.6,1100.5L1073.3,1100.5M1077.0,1096.2L1073.3,1100.5L1077.0,1104.8" fill="none" stroke="#8c8c8c" stroke-width="1.84" stroke-linejoin="miter" stroke-linecap="butt"/><text x="1088.9" y="1107.0" font-size="21.53" font-weight="bold" fill="#8c8c8c" textLength="79.2" lengthAdjust="spacingAndGlyphs" xml:space="preserve">MULFC</text>
<path d="M1087.5,1116.3L1073.3,1116.3M1077.0,1112.0L1073.3,1116.3L1077.0,1120.6" fill="none" stroke="#8c8c8c" stroke-width="1.84" stroke-linejoin="miter" stroke-linecap="butt"/><text x="1088.8" y="1122.7" font-size="21.47" font-weight="bold" fill="#8c8c8c" textLength="71.4" lengthAdjust="spacingAndGlyphs" xml:space="preserve">SBLCL</text>
<path d="M1032.0,1115.2L1022.7,1115.2M1025.1,1112.4L1022.7,1115.2L1025.1,1118.0" fill="none" stroke="#8c8c8c" stroke-width="1.21" stroke-linejoin="miter" stroke-linecap="butt"/><text x="1032.9" y="1119.4" font-size="14.07" font-weight="bold" fill="#8c8c8c" textLength="28.6" lengthAdjust="spacingAndGlyphs" xml:space="preserve">PBL</text>
<path d="M1015.1,930.5L1004.1,930.5M1007.0,927.2L1004.1,930.5L1007.0,933.8" fill="none" stroke="#90b4f0" stroke-width="1.42" stroke-linejoin="miter" stroke-linecap="butt"/><text x="1016.1" y="935.5" font-size="16.54" font-weight="bold" fill="#90b4f0" textLength="34.3" lengthAdjust="spacingAndGlyphs" xml:space="preserve">FRZ</text>
<path d="M1015.1,982.5L1004.1,982.5M1007.0,979.2L1004.1,982.5L1007.0,985.8" fill="none" stroke="#90b4f0" stroke-width="1.42" stroke-linejoin="miter" stroke-linecap="butt"/><text x="1016.1" y="987.5" font-size="16.54" font-weight="bold" fill="#90b4f0" textLength="40.3" lengthAdjust="spacingAndGlyphs" xml:space="preserve">WB0</text>
<text x="697.4" y="1184.6" font-size="16.17" font-weight="bold" fill="#90b4f0" textLength="39.7" lengthAdjust="spacingAndGlyphs">72°F</text>
<text x="822.6" y="1184.6" font-size="16.59" font-weight="bold" fill="#f65a5a" textLength="40.7" lengthAdjust="spacingAndGlyphs">83°F</text>
<polyline points="410.7,98.0 377.3,125.3 362.4,151.3 331.4,191.0 300.4,228.2 263.2,285.2 245.9,288.9 278.1,293.9 451.7,300.1 291.7,306.3 257.0,315.7 286.8,341.0 395.9,346.7 290.5,352.1 314.0,358.3 445.5,363.3 472.7,370.7 472.7,379.4 446.7,384.4 450.4,398.0 453.3,412.3 436.0,429.7 431.0,459.4 448.3,492.9 439.7,505.3 453.3,527.6 427.3,535.0 338.0,542.5 295.9,548.7 232.6,562.3 197.9,574.7 186.8,656.5 164.5,680.0 152.1,691.2 179.3,694.9 357.9,696.1 372.7,701.1 347.9,704.8 174.4,704.8 145.9,707.3 149.6,748.2 173.1,786.6 190.5,853.6 176.9,858.5 225.2,861.0 258.7,874.6 429.8,894.5 412.2,939.7 437.0,970.7 491.6,973.1 466.8,976.9 536.2,982.3 419.7,1012.8 489.1,1033.9 528.8,1038.8 590.7,1041.3 632.9,1047.5 632.9,1051.2 680.0,1058.7 681.2,1062.4 713.5,1084.7 727.1,1088.4 723.4,1094.6 742.0,1095.9 732.1,1112.0 750.7,1119.4 738.3,1143.0 739.5,1165.3" fill="none" stroke="#6495ed" stroke-width="6.6" stroke-linejoin="round" stroke-linecap="round" />
<polyline points="481.8,538.8 479.3,561.1 499.2,605.7 517.8,657.8 519.0,680.0 519.0,694.9 526.5,697.4 527.7,703.6 522.7,708.5 531.4,749.4 532.7,787.9 553.7,853.6 550.0,861.0 551.2,874.6 573.6,894.5 603.1,969.4 614.3,971.9 613.1,975.6 631.7,981.8 610.6,1012.8 630.4,1033.9 640.3,1038.8 660.2,1041.3 680.0,1047.5 681.2,1052.5 704.8,1058.7 704.8,1062.4 728.3,1084.7 734.6,1088.4 743.2,1094.6 745.7,1110.7 755.6,1118.2 755.6,1145.5 760.6,1164.0" fill="none" stroke="#80b3f7" stroke-width="2.8" stroke-linejoin="round" stroke-linecap="round" />
<polyline points="745.5,98.0 700.8,124.0 710.7,150.1 681.0,191.0 624.0,228.2 612.8,285.2 599.2,293.9 585.5,300.1 586.8,306.3 579.3,316.2 552.1,341.0 544.6,346.0 545.9,349.7 532.2,372.0 531.0,379.4 509.9,383.1 507.9,408.6 491.7,424.7 489.3,430.9 496.7,459.4 502.9,494.1 493.0,505.3 504.1,525.1 494.2,535.0 484.3,540.0 486.8,548.7 488.0,561.1 511.6,608.2 536.4,657.8 540.1,680.0 541.3,693.6 548.8,704.8 566.1,748.2 574.8,786.6 621.9,854.8 617.0,861.0 619.4,873.4 630.6,894.5 680.0,940.9 707.3,976.9 709.8,983.1 742.0,1011.6 758.1,1035.1 751.9,1041.3 754.4,1051.2 746.9,1058.7 758.1,1084.7 751.9,1088.4 756.9,1092.2 751.9,1095.9 774.2,1113.2 773.0,1118.2 801.5,1144.2 822.6,1165.3" fill="none" stroke="#ff0000" stroke-width="6.6" stroke-linejoin="round" stroke-linecap="round" />
<polyline points="552.5,875.9 553.2,877.2 553.9,878.4 554.8,879.8 555.8,881.6 557.2,884.2 558.8,888.0 560.9,893.1 563.5,900.0 566.8,909.2 571.0,920.7 575.6,933.8 580.6,947.9 585.6,962.3 590.4,976.6 594.6,989.9 598.2,1001.7 601.0,1012.0 603.4,1021.4 605.4,1030.1 607.1,1038.4 608.7,1046.7 610.1,1055.1 611.6,1064.0 613.1,1073.6 614.7,1084.5 616.4,1096.8 618.0,1109.7 619.6,1122.7 621.0,1135.1 622.3,1146.4 623.4,1155.8 624.2,1162.8" fill="none" stroke="#9b309b" stroke-width="1.2" stroke-linejoin="round" stroke-linecap="round" stroke-dasharray="3.7,1.6" stroke-linecap="butt"/>
<polyline points="634.0,900.0 685.0,940.9 714.7,974.4 744.5,1009.1 764.3,1034.0 771.8,1051.2 773.0,1064.9 779.3,1076.0 788.8,1097.8 800.0,1103.0 811.0,1117.0 826.3,1133.1 864.5,1162.0" fill="none" stroke="#a04848" stroke-width="5.0" stroke-linejoin="round" stroke-linecap="round" stroke-dasharray="5.2,6.2" stroke-linecap="butt" stroke-opacity="0.9"/>
<polyline points="410.5,98.0 412.6,102.6 415.3,108.7 418.5,116.0 422.1,124.0 426.0,132.6 429.9,141.2 433.8,149.7 437.5,157.5 441.1,164.9 444.7,172.4 448.4,179.8 452.1,187.2 455.9,194.7 459.7,202.1 463.5,209.6 467.3,217.0 471.2,224.5 475.1,232.1 479.0,239.7 483.0,247.4 487.0,254.9 491.0,262.3 495.0,269.5 499.0,276.5 502.9,283.1 506.9,289.5 510.8,295.6 514.7,301.6 518.7,307.6 522.6,313.6 526.6,319.8 530.7,326.1 534.9,332.7 539.2,339.5 543.5,346.4 547.9,353.4 552.2,360.3 556.5,367.1 560.6,373.7 564.6,380.0 568.3,385.8 571.7,391.2 575.0,396.3 578.2,401.3 581.5,406.4 584.9,411.7 588.4,417.4 592.3,423.7 596.4,430.5 600.7,437.6 605.1,445.1 609.6,452.8 614.3,460.8 619.2,469.0 624.2,477.3 629.4,485.8 635.0,494.6 641.0,503.9 647.3,513.6 653.7,523.3 660.0,533.0 666.2,542.5 671.9,551.5 677.0,559.9 681.6,567.7 685.8,575.0 689.7,582.0 693.3,588.7 696.7,595.2 699.9,601.6 703.0,607.8 706.1,614.1 709.1,620.4 711.9,626.6 714.5,632.8 717.0,638.8 719.4,644.6 721.7,650.2 723.8,655.5 725.9,660.4 727.9,664.9 729.7,669.0 731.4,672.8 733.0,676.3 734.5,679.7 735.9,683.1 737.3,686.5 738.6,690.0 739.8,693.5 740.8,696.9 741.7,700.2 742.6,703.6 743.5,707.0 744.5,710.6 745.6,714.4 747.1,718.6 748.8,722.9 750.8,727.1 752.9,731.4 755.1,736.0 757.4,741.0 759.7,746.5 762.1,752.8 764.4,760.0 766.8,768.3 769.3,777.5 771.8,787.6 774.4,798.2 776.9,809.1 779.3,820.1 781.5,831.0 783.4,841.4 785.1,851.6 786.5,861.8 787.8,871.9 789.0,882.1 790.1,892.3 791.0,902.4 792.0,912.6 792.9,922.8 793.8,933.0 794.6,943.1 795.3,953.3 796.0,963.5 796.7,973.7 797.2,983.8 797.8,994.0 798.3,1004.2 798.8,1014.7 799.2,1025.7 799.5,1037.0 799.8,1048.1 800.1,1058.8 800.4,1068.8 800.7,1077.9 801.0,1085.6 801.3,1092.0 801.7,1097.5 802.1,1102.1 802.4,1105.9 802.8,1109.1 803.1,1111.7 803.3,1114.0 803.5,1116.0 866.5,1162.8" fill="none" stroke="#b9b9b9" stroke-width="3.0" stroke-linejoin="round" stroke-linecap="round" stroke-dasharray="10,4.3" stroke-linecap="butt"/>
<polyline points="420.2,98.0 422.3,102.3 425.0,108.0 428.2,114.7 431.8,122.3 435.7,130.2 439.6,138.3 443.6,146.2 447.4,153.5 451.2,160.4 455.0,167.3 459.0,174.3 463.0,181.2 467.1,188.1 471.1,195.1 475.2,202.1 479.2,209.1 483.2,216.2 487.2,223.5 491.2,230.8 495.2,238.1 499.2,245.4 503.1,252.6 507.0,259.7 510.9,266.6 514.7,273.3 518.3,279.7 522.0,285.9 525.5,292.1 529.2,298.4 532.9,304.7 536.7,311.3 540.7,318.2 545.0,325.6 549.4,333.4 554.1,341.4 558.8,349.6 563.5,357.7 568.1,365.6 572.4,373.1 576.5,380.0 580.2,386.2 583.5,391.8 586.6,396.9 589.6,401.8 592.6,406.8 595.8,411.9 599.2,417.5 602.9,423.7 607.0,430.5 611.3,437.6 615.7,445.1 620.4,452.8 625.1,460.8 630.0,469.0 635.0,477.3 640.0,485.8 645.2,494.6 650.8,503.9 656.5,513.6 662.2,523.3 667.9,533.0 673.5,542.5 678.7,551.5 683.6,559.9 688.1,567.7 692.3,575.0 696.4,582.0 700.2,588.7 703.9,595.2 707.4,601.6 710.7,607.8 714.0,614.1 717.2,620.4 720.2,626.6 723.0,632.8 725.8,638.8 728.3,644.6 730.8,650.2 733.1,655.5 735.2,660.4 737.2,664.9 738.9,669.0 740.5,672.8 742.0,676.3 743.3,679.7 744.6,683.1 745.9,686.5 747.2,690.0 748.4,693.5 749.5,696.9 750.5,700.2 751.5,703.6 752.5,707.0 753.6,710.6 754.8,714.4 756.3,718.6 758.0,722.9 759.8,727.1 761.8,731.4 763.9,736.0 766.1,741.0 768.3,746.5 770.5,752.8 772.6,760.0 774.8,768.3 777.1,777.5 779.5,787.6 781.9,798.2 784.2,809.1 786.4,820.1 788.4,831.0 790.2,841.4 791.7,851.6 793.0,861.8 794.0,871.9 795.0,882.1 795.9,892.3 796.7,902.4 797.5,912.6 798.3,922.8 799.1,933.0 800.0,943.1 800.7,953.3 801.5,963.5 802.2,973.7 802.8,983.8 803.3,994.0 803.8,1004.2 804.2,1014.7 804.4,1025.7 804.6,1036.9 804.7,1048.0 804.8,1058.7 804.9,1068.7 805.0,1077.8 805.1,1085.6 805.2,1092.2 805.4,1097.9 805.5,1102.8 805.6,1106.9 805.7,1110.4 805.8,1113.4 805.9,1115.9 806.0,1118.1 866.5,1162.8" fill="none" stroke="#999999" stroke-width="3.0" stroke-linejoin="round" stroke-linecap="round" stroke-dasharray="10,4.3" stroke-linecap="butt"/>
<polyline points="381.5,98.0 381.7,98.4 381.8,98.7 382.0,99.0 382.2,99.4 382.6,100.4 383.1,101.9 383.9,104.4 385.0,107.9 386.4,112.6 388.2,118.5 390.2,125.1 392.3,132.5 394.6,140.3 397.0,148.3 399.3,156.3 401.5,164.1 403.7,172.0 405.9,180.2 408.1,188.6 410.4,197.2 412.7,205.8 415.0,214.2 417.3,222.4 419.7,230.3 422.0,237.8 424.3,244.9 426.6,251.8 428.9,258.6 431.3,265.4 433.8,272.2 436.5,279.2 439.5,286.5 442.7,294.1 446.1,301.9 449.7,309.9 453.4,317.9 457.2,325.9 461.2,333.9 465.2,341.7 469.3,349.3 473.6,356.7 478.1,364.1 482.8,371.4 487.5,378.6 492.3,385.7 496.9,392.5 501.4,399.2 505.7,405.5 509.8,411.7 514.0,417.7 518.0,423.7 521.9,429.3 525.7,434.7 529.2,439.8 532.5,444.4 535.4,448.5 537.8,451.8 539.6,454.0 541.1,455.7 542.4,457.1 543.7,458.6 545.3,460.6 547.3,463.4 550.0,467.3 553.2,472.3 556.8,478.1 560.6,484.4 564.8,491.3 569.3,498.7 574.0,506.5 579.1,514.6 584.4,522.9 590.2,531.7 596.5,541.1 603.2,550.9 610.2,561.1 617.2,571.4 624.2,581.8 630.9,592.1 637.3,602.2 643.3,612.0 649.2,621.7 655.0,631.3 660.6,640.9 666.2,650.7 671.6,660.6 677.0,670.9 682.3,681.6 687.7,693.1 693.1,705.5 698.5,718.4 703.8,731.5 708.9,744.2 713.7,756.3 718.1,767.3 722.0,776.8 725.3,784.6 728.1,791.1 730.5,796.5 732.6,801.1 734.5,805.5 736.3,809.8 738.1,814.4 740.0,819.7 741.9,825.4 743.6,831.2 745.2,837.1 746.7,843.0 748.3,849.1 749.9,855.4 751.7,861.8 753.6,868.5 755.7,875.5 758.1,882.7 760.5,890.2 763.0,897.8 765.5,905.5 768.0,913.2 770.4,920.8 772.6,928.2 774.7,935.5 776.7,943.0 778.7,950.4 780.6,957.7 782.5,964.9 784.3,972.0 785.9,978.7 787.5,985.2 789.0,991.3 790.4,997.0 791.6,1002.5 792.8,1007.7 794.0,1012.9 795.0,1018.1 796.0,1023.3 797.0,1028.6 797.9,1034.0 798.7,1039.3 799.4,1044.6 800.1,1050.0 800.8,1055.3 801.3,1060.8 801.9,1066.3 802.4,1072.0 802.9,1078.2 803.3,1085.0 803.7,1092.0 804.1,1099.1 804.4,1105.8 804.7,1111.9 804.9,1117.0 805.1,1120.8 864.0,1163.0" fill="none" stroke="#ff0000" stroke-width="4.7" stroke-linejoin="round" stroke-linecap="round" stroke-dasharray="15.3,6.7" stroke-linecap="butt"/>
<rect x="194" y="690" width="4.2" height="181" fill="#5aa95a" fill-opacity="0.7"/>
<text x="175.6" y="680.0" font-size="17.85" font-weight="bold" fill="#8cc78c" textLength="40.5" lengthAdjust="spacingAndGlyphs">HGZ</text>
<rect x="231.9" y="894.5" width="4.2" height="120" fill="#d98c90" fill-opacity="0.7"/>
<text x="216.5" y="889.5" font-size="16.28" font-weight="bold" fill="#e6a8aa" textLength="27.4" lengthAdjust="spacingAndGlyphs">8.8</text>
<rect x="269.8" y="1040.2" width="4.2" height="124.3" fill="#add8e6" fill-opacity="0.45"/>
<text x="257.9" y="1036.9" font-size="17.85" font-weight="bold" fill="#d3ebf2" textLength="28.7" lengthAdjust="spacingAndGlyphs">EIL</text>
</g>
<line x1="1243.9" y1="153.1" x2="1243.9" y2="1203.3" stroke="#000" stroke-width="1"/>
<line x1="1243.9" y1="221.0" x2="1199.1" y2="217.3" stroke="#000" stroke-width="1.7"/><polygon points="1199.1,217.3 1204.7,199.7 1207.4,218.0" fill="#000" stroke="#000" stroke-width="0.8" stroke-linejoin="round"/><line x1="1212.9" y1="218.4" x2="1210.2" y2="200.2" stroke="#000" stroke-width="1.7" stroke-linecap="round"/><line x1="1218.4" y1="218.9" x2="1215.7" y2="200.6" stroke="#000" stroke-width="1.7" stroke-linecap="round"/><line x1="1223.9" y1="219.3" x2="1222.5" y2="210.2" stroke="#000" stroke-width="1.7" stroke-linecap="round"/><circle cx="1243.9" cy="221.0" r="2.8" fill="#000"/>
<line x1="1243.9" y1="228.0" x2="1199.0" y2="224.7" stroke="#000" stroke-width="1.7"/><polygon points="1199.0,224.7 1204.5,207.1 1207.4,225.3" fill="#000" stroke="#000" stroke-width="0.8" stroke-linejoin="round"/><line x1="1212.9" y1="225.7" x2="1210.0" y2="207.5" stroke="#000" stroke-width="1.7" stroke-linecap="round"/><line x1="1218.4" y1="226.1" x2="1215.5" y2="207.9" stroke="#000" stroke-width="1.7" stroke-linecap="round"/><line x1="1223.9" y1="226.5" x2="1222.4" y2="217.4" stroke="#000" stroke-width="1.7" stroke-linecap="round"/><circle cx="1243.9" cy="228.0" r="2.8" fill="#000"/>
<line x1="1243.9" y1="284.9" x2="1199.1" y2="281.2" stroke="#000" stroke-width="1.7"/><polygon points="1199.1,281.2 1204.7,263.6 1207.4,281.9" fill="#000" stroke="#000" stroke-width="0.8" stroke-linejoin="round"/><line x1="1212.9" y1="282.3" x2="1210.2" y2="264.1" stroke="#000" stroke-width="1.7" stroke-linecap="round"/><line x1="1218.4" y1="282.8" x2="1215.7" y2="264.5" stroke="#000" stroke-width="1.7" stroke-linecap="round"/><line x1="1223.9" y1="283.2" x2="1221.2" y2="265.0" stroke="#000" stroke-width="1.7" stroke-linecap="round"/><circle cx="1243.9" cy="284.9" r="2.8" fill="#000"/>
<line x1="1243.9" y1="315.5" x2="1198.9" y2="315.5" stroke="#000" stroke-width="1.7"/><polygon points="1198.9,315.5 1203.1,297.5 1207.3,315.5" fill="#000" stroke="#000" stroke-width="0.8" stroke-linejoin="round"/><line x1="1212.8" y1="315.5" x2="1208.6" y2="297.5" stroke="#000" stroke-width="1.7" stroke-linecap="round"/><line x1="1218.3" y1="315.5" x2="1214.1" y2="297.5" stroke="#000" stroke-width="1.7" stroke-linecap="round"/><line x1="1223.8" y1="315.5" x2="1221.7" y2="306.5" stroke="#000" stroke-width="1.7" stroke-linecap="round"/><circle cx="1243.9" cy="315.5" r="2.8" fill="#000"/>
<line x1="1243.9" y1="352.7" x2="1199.0" y2="349.4" stroke="#000" stroke-width="1.7"/><polygon points="1199.0,349.4 1204.5,331.8 1207.4,350.0" fill="#000" stroke="#000" stroke-width="0.8" stroke-linejoin="round"/><line x1="1212.9" y1="350.4" x2="1210.0" y2="332.2" stroke="#000" stroke-width="1.7" stroke-linecap="round"/><line x1="1218.4" y1="350.8" x2="1215.5" y2="332.6" stroke="#000" stroke-width="1.7" stroke-linecap="round"/><line x1="1223.9" y1="351.2" x2="1221.0" y2="333.0" stroke="#000" stroke-width="1.7" stroke-linecap="round"/><line x1="1229.3" y1="351.6" x2="1226.5" y2="333.4" stroke="#000" stroke-width="1.7" stroke-linecap="round"/><line x1="1234.8" y1="352.0" x2="1233.4" y2="342.9" stroke="#000" stroke-width="1.7" stroke-linecap="round"/><circle cx="1243.9" cy="352.7" r="2.8" fill="#000"/>
<line x1="1243.9" y1="384.2" x2="1198.9" y2="384.2" stroke="#000" stroke-width="1.7"/><polygon points="1198.9,384.2 1203.1,366.2 1207.3,384.2" fill="#000" stroke="#000" stroke-width="0.8" stroke-linejoin="round"/><line x1="1212.8" y1="384.2" x2="1208.6" y2="366.2" stroke="#000" stroke-width="1.7" stroke-linecap="round"/><line x1="1218.3" y1="384.2" x2="1214.1" y2="366.2" stroke="#000" stroke-width="1.7" stroke-linecap="round"/><line x1="1223.8" y1="384.2" x2="1219.6" y2="366.2" stroke="#000" stroke-width="1.7" stroke-linecap="round"/><line x1="1229.3" y1="384.2" x2="1225.1" y2="366.2" stroke="#000" stroke-width="1.7" stroke-linecap="round"/><line x1="1234.8" y1="384.2" x2="1232.7" y2="375.2" stroke="#000" stroke-width="1.7" stroke-linecap="round"/><circle cx="1243.9" cy="384.2" r="2.8" fill="#000"/>
<line x1="1243.9" y1="423.5" x2="1198.9" y2="423.5" stroke="#000" stroke-width="1.7"/><polygon points="1198.9,423.5 1203.1,405.5 1207.3,423.5" fill="#000" stroke="#000" stroke-width="0.8" stroke-linejoin="round"/><line x1="1212.8" y1="423.5" x2="1208.6" y2="405.5" stroke="#000" stroke-width="1.7" stroke-linecap="round"/><line x1="1218.3" y1="423.5" x2="1214.1" y2="405.5" stroke="#000" stroke-width="1.7" stroke-linecap="round"/><line x1="1223.8" y1="423.5" x2="1219.6" y2="405.5" stroke="#000" stroke-width="1.7" stroke-linecap="round"/><line x1="1229.3" y1="423.5" x2="1225.1" y2="405.5" stroke="#000" stroke-width="1.7" stroke-linecap="round"/><circle cx="1243.9" cy="423.5" r="2.8" fill="#000"/>
<line x1="1243.9" y1="459.2" x2="1198.9" y2="461.0" stroke="#000" stroke-width="1.7"/><polygon points="1198.9,461.0 1202.4,442.8 1207.3,460.7" fill="#000" stroke="#000" stroke-width="0.8" stroke-linejoin="round"/><line x1="1212.8" y1="460.4" x2="1207.9" y2="442.6" stroke="#000" stroke-width="1.7" stroke-linecap="round"/><line x1="1218.3" y1="460.2" x2="1213.4" y2="442.4" stroke="#000" stroke-width="1.7" stroke-linecap="round"/><line x1="1223.8" y1="460.0" x2="1218.9" y2="442.2" stroke="#000" stroke-width="1.7" stroke-linecap="round"/><circle cx="1243.9" cy="459.2" r="2.8" fill="#000"/>
<line x1="1243.9" y1="493.1" x2="1199.0" y2="496.4" stroke="#000" stroke-width="1.7"/><polygon points="1199.0,496.4 1201.9,478.1 1207.4,495.8" fill="#000" stroke="#000" stroke-width="0.8" stroke-linejoin="round"/><line x1="1212.9" y1="495.4" x2="1207.4" y2="477.7" stroke="#000" stroke-width="1.7" stroke-linecap="round"/><line x1="1218.4" y1="495.0" x2="1212.9" y2="477.3" stroke="#000" stroke-width="1.7" stroke-linecap="round"/><line x1="1223.9" y1="494.6" x2="1221.1" y2="485.8" stroke="#000" stroke-width="1.7" stroke-linecap="round"/><circle cx="1243.9" cy="493.1" r="2.8" fill="#000"/>
<line x1="1243.9" y1="520.5" x2="1199.1" y2="524.6" stroke="#000" stroke-width="1.7"/><polygon points="1199.1,524.6 1201.6,506.3 1207.5,523.8" fill="#000" stroke="#000" stroke-width="0.8" stroke-linejoin="round"/><line x1="1212.9" y1="523.3" x2="1207.1" y2="505.8" stroke="#000" stroke-width="1.7" stroke-linecap="round"/><line x1="1218.4" y1="522.8" x2="1212.6" y2="505.3" stroke="#000" stroke-width="1.7" stroke-linecap="round"/><circle cx="1243.9" cy="520.5" r="2.8" fill="#000"/>
<line x1="1243.9" y1="550.1" x2="1199.5" y2="542.7" stroke="#000" stroke-width="1.7"/><polygon points="1199.5,542.7 1206.6,525.7 1207.8,544.1" fill="#000" stroke="#000" stroke-width="0.8" stroke-linejoin="round"/><line x1="1213.2" y1="545.0" x2="1212.6" y2="535.8" stroke="#000" stroke-width="1.7" stroke-linecap="round"/><circle cx="1243.9" cy="550.1" r="2.8" fill="#000"/>
<line x1="1243.9" y1="574.6" x2="1199.5" y2="567.2" stroke="#000" stroke-width="1.7"/><polygon points="1199.5,567.2 1206.6,550.2 1207.8,568.6" fill="#000" stroke="#000" stroke-width="0.8" stroke-linejoin="round"/><line x1="1213.2" y1="569.5" x2="1212.6" y2="560.3" stroke="#000" stroke-width="1.7" stroke-linecap="round"/><circle cx="1243.9" cy="574.6" r="2.8" fill="#000"/>
<line x1="1243.9" y1="614.1" x2="1199.5" y2="606.8" stroke="#000" stroke-width="1.7"/><line x1="1199.5" y1="606.8" x2="1198.3" y2="588.3" stroke="#000" stroke-width="1.7" stroke-linecap="round"/><line x1="1204.9" y1="607.7" x2="1203.7" y2="589.2" stroke="#000" stroke-width="1.7" stroke-linecap="round"/><line x1="1210.4" y1="608.6" x2="1209.1" y2="590.1" stroke="#000" stroke-width="1.7" stroke-linecap="round"/><line x1="1215.8" y1="609.5" x2="1214.6" y2="591.0" stroke="#000" stroke-width="1.7" stroke-linecap="round"/><line x1="1221.2" y1="610.4" x2="1220.6" y2="601.1" stroke="#000" stroke-width="1.7" stroke-linecap="round"/><circle cx="1243.9" cy="614.1" r="2.8" fill="#000"/>
<line x1="1243.9" y1="657.1" x2="1199.0" y2="653.9" stroke="#000" stroke-width="1.7"/><line x1="1199.0" y1="653.9" x2="1196.1" y2="635.7" stroke="#000" stroke-width="1.7" stroke-linecap="round"/><line x1="1204.5" y1="654.3" x2="1201.6" y2="636.1" stroke="#000" stroke-width="1.7" stroke-linecap="round"/><line x1="1210.0" y1="654.7" x2="1207.1" y2="636.5" stroke="#000" stroke-width="1.7" stroke-linecap="round"/><line x1="1215.5" y1="655.1" x2="1214.0" y2="646.0" stroke="#000" stroke-width="1.7" stroke-linecap="round"/><circle cx="1243.9" cy="657.1" r="2.8" fill="#000"/>
<line x1="1243.9" y1="686.3" x2="1199.5" y2="679.0" stroke="#000" stroke-width="1.7"/><line x1="1199.5" y1="679.0" x2="1198.3" y2="660.5" stroke="#000" stroke-width="1.7" stroke-linecap="round"/><line x1="1204.9" y1="679.9" x2="1203.7" y2="661.4" stroke="#000" stroke-width="1.7" stroke-linecap="round"/><line x1="1210.4" y1="680.8" x2="1209.1" y2="662.3" stroke="#000" stroke-width="1.7" stroke-linecap="round"/><line x1="1215.8" y1="681.7" x2="1214.6" y2="663.2" stroke="#000" stroke-width="1.7" stroke-linecap="round"/><circle cx="1243.9" cy="686.3" r="2.8" fill="#000"/>
<line x1="1243.9" y1="708.5" x2="1198.9" y2="709.0" stroke="#000" stroke-width="1.7"/><line x1="1198.9" y1="709.0" x2="1194.5" y2="691.0" stroke="#000" stroke-width="1.7" stroke-linecap="round"/><line x1="1204.4" y1="708.9" x2="1200.0" y2="691.0" stroke="#000" stroke-width="1.7" stroke-linecap="round"/><line x1="1209.9" y1="708.9" x2="1205.5" y2="690.9" stroke="#000" stroke-width="1.7" stroke-linecap="round"/><line x1="1215.4" y1="708.8" x2="1211.0" y2="690.9" stroke="#000" stroke-width="1.7" stroke-linecap="round"/><line x1="1220.9" y1="708.8" x2="1218.7" y2="699.8" stroke="#000" stroke-width="1.7" stroke-linecap="round"/><circle cx="1243.9" cy="708.5" r="2.8" fill="#000"/>
<line x1="1243.9" y1="749.0" x2="1200.4" y2="760.6" stroke="#000" stroke-width="1.7"/><line x1="1200.4" y1="760.6" x2="1191.7" y2="744.3" stroke="#000" stroke-width="1.7" stroke-linecap="round"/><line x1="1205.7" y1="759.2" x2="1197.0" y2="742.9" stroke="#000" stroke-width="1.7" stroke-linecap="round"/><line x1="1211.0" y1="757.8" x2="1202.4" y2="741.5" stroke="#000" stroke-width="1.7" stroke-linecap="round"/><line x1="1216.4" y1="756.3" x2="1207.7" y2="740.0" stroke="#000" stroke-width="1.7" stroke-linecap="round"/><circle cx="1243.9" cy="749.0" r="2.8" fill="#000"/>
<line x1="1243.9" y1="787.4" x2="1200.5" y2="799.4" stroke="#000" stroke-width="1.7"/><line x1="1200.5" y1="799.4" x2="1191.7" y2="783.1" stroke="#000" stroke-width="1.7" stroke-linecap="round"/><line x1="1205.8" y1="797.9" x2="1197.0" y2="781.7" stroke="#000" stroke-width="1.7" stroke-linecap="round"/><line x1="1211.1" y1="796.4" x2="1202.3" y2="780.2" stroke="#000" stroke-width="1.7" stroke-linecap="round"/><line x1="1216.4" y1="795.0" x2="1207.6" y2="778.7" stroke="#000" stroke-width="1.7" stroke-linecap="round"/><circle cx="1243.9" cy="787.4" r="2.8" fill="#000"/>
<line x1="1243.9" y1="815.6" x2="1199.1" y2="819.8" stroke="#000" stroke-width="1.7"/><line x1="1199.1" y1="819.8" x2="1193.2" y2="802.3" stroke="#000" stroke-width="1.7" stroke-linecap="round"/><line x1="1204.6" y1="819.3" x2="1198.7" y2="801.7" stroke="#000" stroke-width="1.7" stroke-linecap="round"/><line x1="1210.0" y1="818.8" x2="1204.2" y2="801.2" stroke="#000" stroke-width="1.7" stroke-linecap="round"/><line x1="1215.5" y1="818.3" x2="1209.7" y2="800.7" stroke="#000" stroke-width="1.7" stroke-linecap="round"/><circle cx="1243.9" cy="815.6" r="2.8" fill="#000"/>
<line x1="1243.9" y1="854.1" x2="1199.1" y2="858.2" stroke="#000" stroke-width="1.7"/><line x1="1199.1" y1="858.2" x2="1193.3" y2="840.6" stroke="#000" stroke-width="1.7" stroke-linecap="round"/><line x1="1204.6" y1="857.7" x2="1198.7" y2="840.1" stroke="#000" stroke-width="1.7" stroke-linecap="round"/><line x1="1210.0" y1="857.2" x2="1204.2" y2="839.6" stroke="#000" stroke-width="1.7" stroke-linecap="round"/><line x1="1215.5" y1="856.7" x2="1212.6" y2="847.9" stroke="#000" stroke-width="1.7" stroke-linecap="round"/><circle cx="1243.9" cy="854.1" r="2.8" fill="#000"/>
<line x1="1243.9" y1="885.7" x2="1204.9" y2="908.1" stroke="#000" stroke-width="1.7"/><line x1="1204.9" y1="908.1" x2="1192.3" y2="894.6" stroke="#000" stroke-width="1.7" stroke-linecap="round"/><line x1="1209.6" y1="905.3" x2="1197.0" y2="891.8" stroke="#000" stroke-width="1.7" stroke-linecap="round"/><line x1="1214.4" y1="902.6" x2="1201.8" y2="889.1" stroke="#000" stroke-width="1.7" stroke-linecap="round"/><circle cx="1243.9" cy="885.7" r="2.8" fill="#000"/>
<line x1="1243.9" y1="915.4" x2="1206.8" y2="940.9" stroke="#000" stroke-width="1.7"/><line x1="1206.8" y1="940.9" x2="1193.2" y2="928.4" stroke="#000" stroke-width="1.7" stroke-linecap="round"/><line x1="1211.3" y1="937.8" x2="1197.7" y2="925.3" stroke="#000" stroke-width="1.7" stroke-linecap="round"/><line x1="1215.9" y1="934.6" x2="1202.2" y2="922.2" stroke="#000" stroke-width="1.7" stroke-linecap="round"/><line x1="1220.4" y1="931.5" x2="1213.6" y2="925.3" stroke="#000" stroke-width="1.7" stroke-linecap="round"/><circle cx="1243.9" cy="915.4" r="2.8" fill="#000"/>
<line x1="1243.9" y1="941.3" x2="1206.0" y2="965.6" stroke="#000" stroke-width="1.7"/><line x1="1206.0" y1="965.6" x2="1192.8" y2="952.8" stroke="#000" stroke-width="1.7" stroke-linecap="round"/><line x1="1210.7" y1="962.7" x2="1197.4" y2="949.8" stroke="#000" stroke-width="1.7" stroke-linecap="round"/><line x1="1215.3" y1="959.7" x2="1202.0" y2="946.8" stroke="#000" stroke-width="1.7" stroke-linecap="round"/><circle cx="1243.9" cy="941.3" r="2.8" fill="#000"/>
<line x1="1243.9" y1="982.3" x2="1217.1" y2="1018.4" stroke="#000" stroke-width="1.7"/><line x1="1217.1" y1="1018.4" x2="1200.1" y2="1011.1" stroke="#000" stroke-width="1.7" stroke-linecap="round"/><line x1="1220.4" y1="1014.0" x2="1203.4" y2="1006.7" stroke="#000" stroke-width="1.7" stroke-linecap="round"/><line x1="1223.6" y1="1009.6" x2="1215.2" y2="1005.9" stroke="#000" stroke-width="1.7" stroke-linecap="round"/><circle cx="1243.9" cy="982.3" r="2.8" fill="#000"/>
<line x1="1243.9" y1="1014.2" x2="1228.4" y2="1056.5" stroke="#000" stroke-width="1.7"/><line x1="1228.4" y1="1056.5" x2="1210.1" y2="1054.2" stroke="#000" stroke-width="1.7" stroke-linecap="round"/><line x1="1230.3" y1="1051.3" x2="1212.0" y2="1049.1" stroke="#000" stroke-width="1.7" stroke-linecap="round"/><line x1="1232.2" y1="1046.1" x2="1213.9" y2="1043.9" stroke="#000" stroke-width="1.7" stroke-linecap="round"/><circle cx="1243.9" cy="1014.2" r="2.8" fill="#000"/>
<line x1="1243.9" y1="1046.9" x2="1232.2" y2="1090.3" stroke="#000" stroke-width="1.7"/><line x1="1232.2" y1="1090.3" x2="1213.7" y2="1089.7" stroke="#000" stroke-width="1.7" stroke-linecap="round"/><line x1="1233.6" y1="1085.0" x2="1215.1" y2="1084.4" stroke="#000" stroke-width="1.7" stroke-linecap="round"/><line x1="1235.0" y1="1079.7" x2="1216.6" y2="1079.1" stroke="#000" stroke-width="1.7" stroke-linecap="round"/><circle cx="1243.9" cy="1046.9" r="2.8" fill="#000"/>
<line x1="1243.9" y1="1081.9" x2="1228.4" y2="1124.2" stroke="#000" stroke-width="1.7"/><line x1="1228.4" y1="1124.2" x2="1210.1" y2="1121.9" stroke="#000" stroke-width="1.7" stroke-linecap="round"/><line x1="1230.3" y1="1119.0" x2="1212.0" y2="1116.8" stroke="#000" stroke-width="1.7" stroke-linecap="round"/><line x1="1232.2" y1="1113.8" x2="1223.0" y2="1112.7" stroke="#000" stroke-width="1.7" stroke-linecap="round"/><circle cx="1243.9" cy="1081.9" r="2.8" fill="#000"/>
<line x1="1243.9" y1="1112.6" x2="1244.0" y2="1157.6" stroke="#000" stroke-width="1.7"/><line x1="1244.0" y1="1157.6" x2="1226.0" y2="1161.8" stroke="#000" stroke-width="1.7" stroke-linecap="round"/><line x1="1244.0" y1="1152.1" x2="1226.0" y2="1156.3" stroke="#000" stroke-width="1.7" stroke-linecap="round"/><line x1="1244.0" y1="1146.6" x2="1235.0" y2="1148.7" stroke="#000" stroke-width="1.7" stroke-linecap="round"/><circle cx="1243.9" cy="1112.6" r="2.8" fill="#000"/>
<line x1="1243.9" y1="1143.0" x2="1258.9" y2="1185.4" stroke="#000" stroke-width="1.7"/><line x1="1258.9" y1="1185.4" x2="1243.3" y2="1195.4" stroke="#000" stroke-width="1.7" stroke-linecap="round"/><line x1="1257.1" y1="1180.2" x2="1241.5" y2="1190.2" stroke="#000" stroke-width="1.7" stroke-linecap="round"/><circle cx="1243.9" cy="1143.0" r="2.8" fill="#000"/>
<line x1="1243.9" y1="1163.2" x2="1266.6" y2="1202.1" stroke="#000" stroke-width="1.7"/><line x1="1266.6" y1="1202.1" x2="1253.1" y2="1214.8" stroke="#000" stroke-width="1.7" stroke-linecap="round"/><circle cx="1243.9" cy="1163.2" r="2.8" fill="#000"/>
<rect x="31.4" y="98.2" width="1270.0" height="1105.1" fill="none" stroke="#000" stroke-width="1.6"/>
<line x1="31.4" y1="1180.4" x2="35.4" y2="1180.4" stroke="#000" stroke-width="1.6"/>
<text x="41.5" y="1186.8" font-size="17.96" font-weight="bold" fill="#000" textLength="47.6" lengthAdjust="spacingAndGlyphs">1000</text>
<line x1="31.4" y1="1130.9" x2="35.4" y2="1130.9" stroke="#000" stroke-width="1.6"/>
<text x="41.5" y="1137.3" font-size="17.96" font-weight="bold" fill="#000" textLength="35.7" lengthAdjust="spacingAndGlyphs">900</text>
<line x1="31.4" y1="1075.5" x2="35.4" y2="1075.5" stroke="#000" stroke-width="1.6"/>
<text x="41.5" y="1081.9" font-size="17.96" font-weight="bold" fill="#000" textLength="35.7" lengthAdjust="spacingAndGlyphs">800</text>
<line x1="31.4" y1="1012.7" x2="35.4" y2="1012.7" stroke="#000" stroke-width="1.6"/>
<text x="41.5" y="1019.1" font-size="17.96" font-weight="bold" fill="#000" textLength="35.7" lengthAdjust="spacingAndGlyphs">700</text>
<line x1="31.4" y1="940.3" x2="35.4" y2="940.3" stroke="#000" stroke-width="1.6"/>
<text x="41.5" y="946.7" font-size="17.96" font-weight="bold" fill="#000" textLength="35.7" lengthAdjust="spacingAndGlyphs">600</text>
<line x1="31.4" y1="854.6" x2="35.4" y2="854.6" stroke="#000" stroke-width="1.6"/>
<text x="41.5" y="861.0" font-size="17.96" font-weight="bold" fill="#000" textLength="35.7" lengthAdjust="spacingAndGlyphs">500</text>
<line x1="31.4" y1="749.7" x2="35.4" y2="749.7" stroke="#000" stroke-width="1.6"/>
<text x="41.5" y="756.1" font-size="17.96" font-weight="bold" fill="#000" textLength="35.7" lengthAdjust="spacingAndGlyphs">400</text>
<line x1="31.4" y1="614.5" x2="35.4" y2="614.5" stroke="#000" stroke-width="1.6"/>
<text x="41.5" y="620.9" font-size="17.96" font-weight="bold" fill="#000" textLength="35.7" lengthAdjust="spacingAndGlyphs">300</text>
<line x1="31.4" y1="424.0" x2="35.4" y2="424.0" stroke="#000" stroke-width="1.6"/>
<text x="41.5" y="430.4" font-size="17.96" font-weight="bold" fill="#000" textLength="35.7" lengthAdjust="spacingAndGlyphs">200</text>
<line x1="128.8" y1="1203.3" x2="128.8" y2="1199.8" stroke="#000" stroke-width="1.6"/>
<text x="128.8" y="1201.0" font-size="17.96" font-weight="bold" text-anchor="middle" fill="#000" textLength="38.1" lengthAdjust="spacingAndGlyphs">−20</text>
<line x1="263.1" y1="1203.3" x2="263.1" y2="1199.8" stroke="#000" stroke-width="1.6"/>
<text x="263.1" y="1201.0" font-size="17.96" font-weight="bold" text-anchor="middle" fill="#000" textLength="38.1" lengthAdjust="spacingAndGlyphs">−10</text>
<line x1="397.4" y1="1203.3" x2="397.4" y2="1199.8" stroke="#000" stroke-width="1.6"/>
<text x="397.4" y="1201.0" font-size="17.96" font-weight="bold" text-anchor="middle" fill="#000" textLength="11.9" lengthAdjust="spacingAndGlyphs">0</text>
<line x1="531.7" y1="1203.3" x2="531.7" y2="1199.8" stroke="#000" stroke-width="1.6"/>
<text x="531.7" y="1201.0" font-size="17.96" font-weight="bold" text-anchor="middle" fill="#000" textLength="23.8" lengthAdjust="spacingAndGlyphs">10</text>
<line x1="666.0" y1="1203.3" x2="666.0" y2="1199.8" stroke="#000" stroke-width="1.6"/>
<text x="666.0" y="1201.0" font-size="17.96" font-weight="bold" text-anchor="middle" fill="#000" textLength="23.8" lengthAdjust="spacingAndGlyphs">20</text>
<line x1="800.3" y1="1203.3" x2="800.3" y2="1199.8" stroke="#000" stroke-width="1.6"/>
<text x="800.3" y="1201.0" font-size="17.96" font-weight="bold" text-anchor="middle" fill="#000" textLength="23.8" lengthAdjust="spacingAndGlyphs">30</text>
<line x1="934.6" y1="1203.3" x2="934.6" y2="1199.8" stroke="#000" stroke-width="1.6"/>
<text x="934.6" y="1201.0" font-size="17.96" font-weight="bold" text-anchor="middle" fill="#000" textLength="23.8" lengthAdjust="spacingAndGlyphs">40</text>
<line x1="1068.9" y1="1203.3" x2="1068.9" y2="1199.8" stroke="#000" stroke-width="1.6"/>
<text x="1068.9" y="1201.0" font-size="17.96" font-weight="bold" text-anchor="middle" fill="#000" textLength="23.8" lengthAdjust="spacingAndGlyphs">50</text>
<line x1="1203.2" y1="1203.3" x2="1203.2" y2="1199.8" stroke="#000" stroke-width="1.6"/>
<text x="1203.2" y="1201.0" font-size="17.96" font-weight="bold" text-anchor="middle" fill="#000" textLength="23.8" lengthAdjust="spacingAndGlyphs">60</text>
<rect x="37.7" y="105.3" width="178.3" height="191.7" rx="4" ry="4" fill="#fff" fill-opacity="0.8" stroke="#cccccc" stroke-width="1"/>
<line x1="42" y1="116.4" x2="72.8" y2="116.4" stroke="#80b3f7" stroke-width="3.0" />
<text x="82.5" y="122.0" font-size="13.86" fill="#000" textLength="104.5" lengthAdjust="spacingAndGlyphs">WETBULB TEMP</text>
<line x1="42.8" y1="137.4" x2="71" y2="137.4" stroke="#a04848" stroke-width="5.1" stroke-dasharray="5.2,6.2"/>
<text x="82.5" y="143.0" font-size="13.86" fill="#000" textLength="95.2" lengthAdjust="spacingAndGlyphs">VIRTUAL TEMP</text>
<line x1="40" y1="158.3" x2="75" y2="158.3" stroke="#6495ed" stroke-width="6.7" />
<text x="82.5" y="163.9" font-size="13.86" fill="#000" textLength="71.8" lengthAdjust="spacingAndGlyphs">DEWPOINT</text>
<line x1="40" y1="179.3" x2="75" y2="179.3" stroke="#ff0000" stroke-width="6.7" />
<text x="82.5" y="184.9" font-size="13.86" fill="#000" textLength="96.0" lengthAdjust="spacingAndGlyphs">TEMPERATURE</text>
<line x1="43" y1="200.2" x2="70.7" y2="200.2" stroke="#ff0000" stroke-width="4.1" stroke-dasharray="15.3,6.7"/>
<text x="82.5" y="205.8" font-size="13.86" fill="#000" textLength="117.7" lengthAdjust="spacingAndGlyphs">MUECAPE PARCEL</text>
<line x1="43.4" y1="221.2" x2="68.5" y2="221.2" stroke="#bbbbbb" stroke-width="2.7" stroke-dasharray="10,4.9"/>
<text x="82.5" y="226.8" font-size="13.86" fill="#000" textLength="105.5" lengthAdjust="spacingAndGlyphs">SBCAPE PARCEL</text>
<line x1="43.4" y1="242.2" x2="68.5" y2="242.2" stroke="#bbbbbb" stroke-width="2.7" stroke-dasharray="10,4.9"/>
<text x="82.5" y="247.8" font-size="13.86" fill="#000" textLength="107.1" lengthAdjust="spacingAndGlyphs">MLCAPE PARCEL</text>
<line x1="43.4" y1="263.1" x2="68.5" y2="263.1" stroke="#bbbbbb" stroke-width="2.7" stroke-dasharray="10,4.9"/>
<text x="82.5" y="268.7" font-size="13.86" fill="#000" textLength="109.4" lengthAdjust="spacingAndGlyphs">MUCAPE PARCEL</text>
<line x1="43" y1="284.1" x2="72" y2="284.1" stroke="#9b309b" stroke-width="1.2" stroke-dasharray="3.7,1.6"/>
<text x="82.5" y="289.7" font-size="13.86" fill="#000" textLength="121.6" lengthAdjust="spacingAndGlyphs">DWNDRFT PARCEL</text>
<rect x="1301.4" y="98.2" width="88.5" height="1105.1" fill="#fff"/>
<line x1="1301.4" y1="1180.4" x2="1389.9" y2="1180.4" stroke="#9a9a9a" stroke-width="1.2"/>
<line x1="1301.4" y1="1130.9" x2="1389.9" y2="1130.9" stroke="#9a9a9a" stroke-width="1.2"/>
<line x1="1301.4" y1="1075.5" x2="1389.9" y2="1075.5" stroke="#9a9a9a" stroke-width="1.2"/>
<line x1="1301.4" y1="1012.7" x2="1389.9" y2="1012.7" stroke="#9a9a9a" stroke-width="1.2"/>
<line x1="1301.4" y1="940.3" x2="1389.9" y2="940.3" stroke="#9a9a9a" stroke-width="1.2"/>
<line x1="1301.4" y1="854.6" x2="1389.9" y2="854.6" stroke="#9a9a9a" stroke-width="1.2"/>
<line x1="1301.4" y1="749.7" x2="1389.9" y2="749.7" stroke="#9a9a9a" stroke-width="1.2"/>
<line x1="1301.4" y1="614.5" x2="1389.9" y2="614.5" stroke="#9a9a9a" stroke-width="1.2"/>
<line x1="1301.4" y1="424.0" x2="1389.9" y2="424.0" stroke="#9a9a9a" stroke-width="1.2"/>
<rect x="1328.6" y="164.4" width="12.8" height="293.8" fill="#cfdcf5" stroke="#a8b0c0" stroke-width="0.8"/>
<rect x="1341.4" y="458.2" width="7.2" height="178.2" fill="#ffb0b0" stroke="#c89898" stroke-width="0.8"/>
<rect x="1341.4" y="636.4" width="5.6" height="131.3" fill="#ffb0b0" stroke="#c89898" stroke-width="0.8"/>
<rect x="1341.4" y="767.7" width="20.0" height="100.3" fill="#ffb0b0" stroke="#c89898" stroke-width="0.8"/>
<rect x="1341.4" y="868" width="14.9" height="84.0" fill="#ffb0b0" stroke="#c89898" stroke-width="0.8"/>
<rect x="1341.4" y="952" width="16.9" height="70.3" fill="#ffb0b0" stroke="#c89898" stroke-width="0.8"/>
<rect x="1341.4" y="1022.3" width="10.2" height="62.5" fill="#ffb0b0" stroke="#c89898" stroke-width="0.8"/>
<rect x="1341.4" y="1084.8" width="14.9" height="54.0" fill="#ffb0b0" stroke="#c89898" stroke-width="0.8"/>
<line x1="1341.4" y1="98.2" x2="1341.4" y2="1203.3" stroke="#000" stroke-width="1.4" stroke-dasharray="4,2.2"/>
<text x="1310.3" y="361.5" font-size="12.92" font-weight="bold" fill="#000" textLength="26.9" lengthAdjust="spacingAndGlyphs">-2.0</text>
<text x="1344.6" y="573.2" font-size="12.92" font-weight="bold" fill="#000" textLength="21.8" lengthAdjust="spacingAndGlyphs">1.0</text>
<text x="1344.6" y="719.6" font-size="12.92" font-weight="bold" fill="#000" textLength="21.8" lengthAdjust="spacingAndGlyphs">0.8</text>
<text x="1344.6" y="831.0" font-size="12.92" font-weight="bold" fill="#000" textLength="21.8" lengthAdjust="spacingAndGlyphs">3.0</text>
<text x="1344.6" y="920.8" font-size="12.92" font-weight="bold" fill="#000" textLength="21.8" lengthAdjust="spacingAndGlyphs">2.1</text>
<text x="1344.6" y="995.8" font-size="12.92" font-weight="bold" fill="#000" textLength="21.8" lengthAdjust="spacingAndGlyphs">2.5</text>
<text x="1344.6" y="1061.4" font-size="12.92" font-weight="bold" fill="#000" textLength="21.8" lengthAdjust="spacingAndGlyphs">1.4</text>
<text x="1344.6" y="1118.0" font-size="12.92" font-weight="bold" fill="#000" textLength="21.8" lengthAdjust="spacingAndGlyphs">2.1</text>
<rect x="1301.4" y="98.2" width="88.5" height="1105.1" fill="none" stroke="#000" stroke-width="1.6"/>
<clipPath id="hc"><rect x="1389.9" y="98.2" width="1022.6" height="1105.1"/></clipPath>
<rect x="1389.9" y="98.2" width="1022.6" height="1105.1" fill="#fff"/>
<g clip-path="url(#hc)">
<circle cx="1748.2" cy="677.0" r="84.2" fill="none" stroke="#c4c4c4" stroke-width="1.2" stroke-dasharray="7,3.2"/>
<circle cx="1748.2" cy="677.0" r="252.6" fill="none" stroke="#c4c4c4" stroke-width="1.2" stroke-dasharray="7,3.2"/>
<circle cx="1748.2" cy="677.0" r="421.0" fill="none" stroke="#c4c4c4" stroke-width="1.2" stroke-dasharray="7,3.2"/>
<circle cx="1748.2" cy="677.0" r="589.4" fill="none" stroke="#c4c4c4" stroke-width="1.2" stroke-dasharray="7,3.2"/>
<circle cx="1748.2" cy="677.0" r="757.8" fill="none" stroke="#c4c4c4" stroke-width="1.2" stroke-dasharray="7,3.2"/>
<circle cx="1748.2" cy="677.0" r="168.4" fill="none" stroke="#adadad" stroke-width="1.4"/>
<circle cx="1748.2" cy="677.0" r="168.4" fill="none" stroke="#888" stroke-width="1.4" stroke-dasharray="5,2.2"/>
<circle cx="1748.2" cy="677.0" r="336.8" fill="none" stroke="#adadad" stroke-width="1.4"/>
<circle cx="1748.2" cy="677.0" r="336.8" fill="none" stroke="#888" stroke-width="1.4" stroke-dasharray="5,2.2"/>
<circle cx="1748.2" cy="677.0" r="505.2" fill="none" stroke="#adadad" stroke-width="1.4"/>
<circle cx="1748.2" cy="677.0" r="505.2" fill="none" stroke="#888" stroke-width="1.4" stroke-dasharray="5,2.2"/>
<circle cx="1748.2" cy="677.0" r="673.6" fill="none" stroke="#adadad" stroke-width="1.4"/>
<circle cx="1748.2" cy="677.0" r="673.6" fill="none" stroke="#888" stroke-width="1.4" stroke-dasharray="5,2.2"/>
<line x1="1389.9" y1="677.0" x2="2412.5" y2="677.0" stroke="#bdbdbd" stroke-width="1.3"/>
<line x1="1389.9" y1="677.0" x2="2412.5" y2="677.0" stroke="#8c8c8c" stroke-width="1.4" stroke-dasharray="5,2.2"/>
<line x1="1748.2" y1="98.2" x2="1748.2" y2="1203.3" stroke="#bdbdbd" stroke-width="1.3"/>
<line x1="1748.2" y1="98.2" x2="1748.2" y2="1203.3" stroke="#8c8c8c" stroke-width="1.4" stroke-dasharray="5,2.2"/>
<text x="1834.4" y="675.2" font-size="16.59" font-weight="bold" fill="#c8c8c8" textLength="22.0" lengthAdjust="spacingAndGlyphs">10</text>
<text x="1666.0" y="675.2" font-size="16.59" font-weight="bold" fill="#c8c8c8" textLength="22.0" lengthAdjust="spacingAndGlyphs">10</text>
<text x="2002.8" y="675.2" font-size="16.59" font-weight="bold" fill="#c8c8c8" textLength="22.0" lengthAdjust="spacingAndGlyphs">30</text>
<text x="1497.6" y="675.2" font-size="16.59" font-weight="bold" fill="#c8c8c8" textLength="22.0" lengthAdjust="spacingAndGlyphs">30</text>
<text x="2171.2" y="675.2" font-size="16.59" font-weight="bold" fill="#c8c8c8" textLength="22.0" lengthAdjust="spacingAndGlyphs">50</text>
<text x="1329.2" y="675.2" font-size="16.59" font-weight="bold" fill="#c8c8c8" textLength="22.0" lengthAdjust="spacingAndGlyphs">50</text>
<text x="2339.6" y="675.2" font-size="16.59" font-weight="bold" fill="#c8c8c8" textLength="22.0" lengthAdjust="spacingAndGlyphs">70</text>
<text x="1160.8" y="675.2" font-size="16.59" font-weight="bold" fill="#c8c8c8" textLength="22.0" lengthAdjust="spacingAndGlyphs">70</text>
<text x="1750.2" y="590.7" font-size="16.59" font-weight="bold" fill="#c8c8c8" textLength="22.0" lengthAdjust="spacingAndGlyphs">10</text>
<text x="1750.2" y="759.6" font-size="16.59" font-weight="bold" fill="#c8c8c8" textLength="22.0" lengthAdjust="spacingAndGlyphs">10</text>
<text x="1750.2" y="422.3" font-size="16.59" font-weight="bold" fill="#c8c8c8" textLength="22.0" lengthAdjust="spacingAndGlyphs">30</text>
<text x="1750.2" y="928.0" font-size="16.59" font-weight="bold" fill="#c8c8c8" textLength="22.0" lengthAdjust="spacingAndGlyphs">30</text>
<text x="1750.2" y="253.9" font-size="16.59" font-weight="bold" fill="#c8c8c8" textLength="22.0" lengthAdjust="spacingAndGlyphs">50</text>
<text x="1750.2" y="1096.4" font-size="16.59" font-weight="bold" fill="#c8c8c8" textLength="22.0" lengthAdjust="spacingAndGlyphs">50</text>
<polygon points="1831.0,638.9 1709.5,605.0 1693.0,525.7 1685.5,500.9 1698.0,496.7 1729.4,481.0 1753.3,464.0 1765.7,457.9 1780.6,459.5 1790.5,464.5 1802.1,474.4 1820.3,480.2 1808.7,469.4 1791.4,457.0 1790.5,448.0 1793.8,443.0 1804.6,437.2 1817.8,432.2" fill="#add8e6" fill-opacity="0.3" stroke="#add8e6" stroke-opacity="0.6" stroke-width="2"/>
<line x1="1748.2" y1="677.0" x2="1827" y2="640.9" stroke="#c8c8c8" stroke-width="4"/>
<polygon points="1831,638.5 1816,640 1820,649" fill="#c0c0c0"/>
<polygon points="1757.9,594.7 1770.3,594.7 1764.1,607.1" fill="#a52a2a" fill-opacity="0.75"/>
<text x="1747.6" y="584.4" font-size="13.23" font-weight="bold" fill="#a82828" textLength="31.6" lengthAdjust="spacingAndGlyphs">DTM</text>
<polyline points="2114.3,735.5 2139.7,746.6 2163.5,750.5 2213.5,760.0 2231.8,752.1 2260.4,728.3 2292.1,696.6 2316.0,668.0 2319.9,626.7 2350.9,634.6 2373.1,634.6 2388.2,639.4 2430.0,652.0" fill="none" stroke="#ffeca0" stroke-width="8.2" stroke-linejoin="round" stroke-linecap="round" />
<polyline points="2069.6,648.5 2072.2,634.0 2061.6,586.3 2056.3,565.2 2080.2,579.7 2093.4,599.6 2118.5,673.7 2118.5,690.8 2104.0,713.3 2097.4,725.2 2037.8,701.4 2045.0,712.0 2092.0,737.1 2114.6,734.5" fill="none" stroke="#ffd700" stroke-width="8.2" stroke-linejoin="round" stroke-linecap="round" />
<polygon points="2035.2,698.8 2097.4,721.3 2090.7,739.8 2040.5,710.7" fill="#ffd700" stroke="#ffd700" stroke-width="3" stroke-linejoin="round"/>
<polyline points="1849.2,502.5 1873.2,507.5 1879.8,512.4 1958.5,553.3 1974.3,517.6 1958.5,553.3 1975.7,573.1 1994.2,595.6 2008.7,626.0 2022.0,641.9 2029.9,652.5 2069.6,648.5" fill="none" stroke="#ff8c00" stroke-width="8.2" stroke-linejoin="round" stroke-linecap="round" />
<polyline points="1753.3,464.0 1765.7,457.9 1780.6,459.5 1790.5,464.5 1802.1,474.4 1820.3,480.2 1808.7,469.4 1791.4,457.0 1790.5,448.0 1793.8,443.0 1804.6,437.2 1812.0,425.6 1818.7,424.0 1825.3,427.3 1835.2,439.7 1831.9,444.6 1834.4,467.8 1849.2,502.5" fill="none" stroke="#ff0000" stroke-width="8.2" stroke-linejoin="round" stroke-linecap="round" />
<polyline points="1707.0,607.5 1693.0,525.7 1685.5,500.9 1698.0,496.7 1729.4,481.0 1753.3,464.0" fill="none" stroke="#800080" stroke-width="8.2" stroke-linejoin="round" stroke-linecap="round" />
<circle cx="1698" cy="496.7" r="10.3" fill="#fff" stroke="#000" stroke-width="1.6"/>
<text x="1698.0" y="502.0" font-size="15.75" font-weight="bold" text-anchor="middle" fill="#000" textLength="16.1" lengthAdjust="spacingAndGlyphs">.5</text>
<circle cx="1753.3" cy="464" r="10.3" fill="#fff" stroke="#000" stroke-width="1.6"/>
<text x="1753.3" y="469.3" font-size="15.75" font-weight="bold" text-anchor="middle" fill="#000" textLength="10.4" lengthAdjust="spacingAndGlyphs">1</text>
<circle cx="1804.6" cy="437.2" r="10.3" fill="#fff" stroke="#000" stroke-width="1.6"/>
<text x="1804.6" y="442.5" font-size="15.75" font-weight="bold" text-anchor="middle" fill="#000" textLength="10.4" lengthAdjust="spacingAndGlyphs">2</text>
<circle cx="1849.2" cy="502.5" r="10.3" fill="#fff" stroke="#000" stroke-width="1.6"/>
<text x="1849.2" y="507.8" font-size="15.75" font-weight="bold" text-anchor="middle" fill="#000" textLength="10.4" lengthAdjust="spacingAndGlyphs">3</text>
<circle cx="1966.4" cy="534.8" r="10.3" fill="#fff" stroke="#000" stroke-width="1.6"/>
<text x="1966.4" y="540.1" font-size="15.75" font-weight="bold" text-anchor="middle" fill="#000" textLength="10.4" lengthAdjust="spacingAndGlyphs">4</text>
<circle cx="1975.7" cy="573.1" r="10.3" fill="#fff" stroke="#000" stroke-width="1.6"/>
<text x="1975.7" y="578.4" font-size="15.75" font-weight="bold" text-anchor="middle" fill="#000" textLength="10.4" lengthAdjust="spacingAndGlyphs">5</text>
<circle cx="2069.6" cy="648.5" r="10.3" fill="#fff" stroke="#000" stroke-width="1.6"/>
<text x="2069.6" y="653.8" font-size="15.75" font-weight="bold" text-anchor="middle" fill="#000" textLength="10.4" lengthAdjust="spacingAndGlyphs">6</text>
<circle cx="2080.2" cy="579.7" r="10.3" fill="#fff" stroke="#000" stroke-width="1.6"/>
<text x="2080.2" y="585.0" font-size="15.75" font-weight="bold" text-anchor="middle" fill="#000" textLength="10.4" lengthAdjust="spacingAndGlyphs">7</text>
<circle cx="2097.4" cy="726.6" r="10.3" fill="#fff" stroke="#000" stroke-width="1.6"/>
<text x="2097.4" y="731.9" font-size="15.75" font-weight="bold" text-anchor="middle" fill="#000" textLength="10.4" lengthAdjust="spacingAndGlyphs">8</text>
<circle cx="2114.6" cy="734.5" r="10.3" fill="#fff" stroke="#000" stroke-width="1.6"/>
<text x="2114.6" y="739.8" font-size="15.75" font-weight="bold" text-anchor="middle" fill="#000" textLength="10.4" lengthAdjust="spacingAndGlyphs">9</text>
<circle cx="2388.2" cy="639.4" r="10.3" fill="#fff" stroke="#000" stroke-width="1.6"/>
<text x="2388.2" y="644.7" font-size="15.75" font-weight="bold" text-anchor="middle" fill="#000" textLength="20.9" lengthAdjust="spacingAndGlyphs">11</text>
<text x="1836.0" y="642.2" font-size="18.38" font-weight="bold" fill="#000" textLength="30.9" lengthAdjust="spacingAndGlyphs">RM</text>
<text x="1907.7" y="408.6" font-size="18.90" font-weight="bold" fill="#111" textLength="29.3" lengthAdjust="spacingAndGlyphs">LM</text>
<text x="1941.3" y="545.3" font-size="18.90" font-weight="bold" fill="#111" textLength="37.8" lengthAdjust="spacingAndGlyphs">MW</text>
<text x="1957.1" y="734.5" font-size="15.23" font-weight="bold" fill="#fcc468" textLength="22.4" lengthAdjust="spacingAndGlyphs">UP</text>
<text x="2161.9" y="614.8" font-size="15.23" font-weight="bold" fill="#fcc468" textLength="24.1" lengthAdjust="spacingAndGlyphs">DN</text>
<text x="1411.6" y="124.6" font-size="21.79" font-weight="bold" fill="#666" textLength="401.5" lengthAdjust="spacingAndGlyphs">SM: RIGHT MOVING | ENE @ 10 kts</text>
<text x="1411.6" y="154.4" font-size="21.79" fill="#666" textLength="185.6" lengthAdjust="spacingAndGlyphs">RM: ENE @ 10 kts</text>
<text x="1411.6" y="194.3" font-size="21.79" fill="#666" textLength="185.1" lengthAdjust="spacingAndGlyphs">LM: NNE @ 37 kts</text>
<text x="1411.6" y="233.6" font-size="21.79" fill="#666" textLength="177.3" lengthAdjust="spacingAndGlyphs">MW: NE @ 27 kts</text>
<text x="1405.0" y="272.2" font-size="21.79" fill="#666" textLength="189.0" lengthAdjust="spacingAndGlyphs">DTM: NNE @ 9 kts</text>
<text x="1411.6" y="311.2" font-size="21.79" fill="#666" textLength="179.3" lengthAdjust="spacingAndGlyphs">US: ESE @ 27 kts</text>
<text x="1411.6" y="350.0" font-size="21.79" fill="#666" textLength="153.8" lengthAdjust="spacingAndGlyphs">DS: E @ 51 kts</text>
</g>
<clipPath id="mc"><rect x="1389.9" y="943.5" width="259.3" height="259.8"/></clipPath>
<rect x="1389.9" y="943.5" width="259.3" height="259.8" fill="#fff"/>
<g clip-path="url(#mc)" stroke="#c8c8c8" stroke-width="0.8" fill="none">
<line x1="1419.5" y1="943.5" x2="1419.5" y2="997.4"/>
<line x1="1454.5" y1="943.5" x2="1454.5" y2="997.4"/>
<line x1="1497.4" y1="943.5" x2="1497.4" y2="997.4"/>
<line x1="1540.5" y1="943.5" x2="1540.5" y2="997.4"/>
<line x1="1580.5" y1="943.5" x2="1580.5" y2="997.4"/>
<line x1="1617.7" y1="943.5" x2="1617.7" y2="997.4"/>
<line x1="1646.8" y1="943.5" x2="1646.8" y2="997.4"/>
<line x1="1389.5" y1="949.5" x2="1419.5" y2="949.5"/>
<line x1="1454.5" y1="949.5" x2="1504.1" y2="949.5"/>
<line x1="1419.5" y1="966.3" x2="1454.5" y2="966.3"/>
<line x1="1497.4" y1="966.3" x2="1580.5" y2="966.3"/>
<line x1="1389.5" y1="972.3" x2="1419.5" y2="972.3"/>
<line x1="1454.5" y1="972.3" x2="1497.4" y2="972.3"/>
<line x1="1580.5" y1="957.7" x2="1617.7" y2="957.7"/>
<line x1="1580.5" y1="977.2" x2="1617.7" y2="977.2"/>
<line x1="1617.7" y1="949.5" x2="1649.2" y2="949.5"/>
<line x1="1617.7" y1="972.3" x2="1649.2" y2="972.3"/>
<line x1="1400.5" y1="1009.5" x2="1400.5" y2="1024.1"/>
<line x1="1422.3" y1="1024.1" x2="1422.3" y2="1051.4"/>
<line x1="1449.5" y1="998.6" x2="1449.5" y2="1035.9"/>
<line x1="1477.7" y1="998.6" x2="1477.7" y2="1051.4"/>
<line x1="1519.5" y1="998.6" x2="1519.5" y2="1051.4"/>
<line x1="1614.5" y1="998.6" x2="1614.5" y2="1051.4"/>
<line x1="1627.7" y1="998.6" x2="1627.7" y2="1051.4"/>
<line x1="1395.9" y1="1051.4" x2="1395.9" y2="1119.5"/>
<line x1="1443.5" y1="1051.4" x2="1443.5" y2="1135.9"/>
<line x1="1471.4" y1="1051.4" x2="1471.4" y2="1080.5"/>
<line x1="1506.5" y1="1051.4" x2="1506.5" y2="1146.8"/>
<line x1="1540.5" y1="1065.9" x2="1540.5" y2="1132.3"/>
<line x1="1574.6" y1="1051.4" x2="1574.6" y2="1101.4"/>
<line x1="1612.3" y1="1058.6" x2="1612.3" y2="1071.4"/>
<line x1="1465.0" y1="1080.5" x2="1465.0" y2="1102.3"/>
<line x1="1478.6" y1="1102.3" x2="1478.6" y2="1147.7"/>
<line x1="1565.0" y1="1100.5" x2="1565.0" y2="1135.0"/>
<line x1="1586.5" y1="1097.7" x2="1586.5" y2="1131.4"/>
<line x1="1615.9" y1="1102.3" x2="1615.9" y2="1116.8"/>
<line x1="1609.5" y1="1124.1" x2="1609.5" y2="1149.5"/>
<line x1="1431.9" y1="1135.9" x2="1431.9" y2="1158.6"/>
<line x1="1475.5" y1="1148.6" x2="1475.5" y2="1202.3"/>
<line x1="1513.2" y1="1148.6" x2="1513.2" y2="1196.8"/>
<line x1="1554.5" y1="1132.3" x2="1554.5" y2="1185.9"/>
<line x1="1588.3" y1="1132.3" x2="1588.3" y2="1182.3"/>
<line x1="1629.5" y1="1149.5" x2="1629.5" y2="1182.3"/>
<line x1="1646.8" y1="1125.0" x2="1646.8" y2="1153.2"/>
<line x1="1423.2" y1="1176.8" x2="1423.2" y2="1203.2"/>
<line x1="1457.4" y1="1184.1" x2="1457.4" y2="1203.2"/>
<line x1="1619.5" y1="1182.3" x2="1619.5" y2="1202.3"/>
<line x1="1389.5" y1="1023.5" x2="1400.5" y2="1023.5"/>
<line x1="1422.3" y1="1032.3" x2="1477.7" y2="1032.3"/>
<line x1="1477.7" y1="1023.5" x2="1566.5" y2="1023.5"/>
<line x1="1389.5" y1="1051.4" x2="1614.5" y2="1051.4"/>
<line x1="1395.9" y1="1074.5" x2="1443.5" y2="1074.5"/>
<line x1="1574.6" y1="1085.5" x2="1612.3" y2="1085.5"/>
<line x1="1395.9" y1="1097.2" x2="1443.5" y2="1097.2"/>
<line x1="1465.0" y1="1080.5" x2="1540.5" y2="1080.5"/>
<line x1="1540.5" y1="1065.9" x2="1574.6" y2="1065.9"/>
<line x1="1540.5" y1="1097.2" x2="1574.6" y2="1097.2"/>
<line x1="1586.5" y1="1108.6" x2="1615.9" y2="1108.6"/>
<line x1="1395.9" y1="1119.5" x2="1443.5" y2="1119.5"/>
<line x1="1443.5" y1="1091.0" x2="1478.6" y2="1091.0"/>
<line x1="1478.6" y1="1102.3" x2="1540.5" y2="1102.3"/>
<line x1="1506.5" y1="1135.9" x2="1554.5" y2="1135.9"/>
<line x1="1431.9" y1="1135.9" x2="1478.6" y2="1135.9"/>
<line x1="1475.5" y1="1148.6" x2="1513.2" y2="1148.6"/>
<line x1="1513.2" y1="1159.5" x2="1554.5" y2="1159.5"/>
<line x1="1554.5" y1="1159.5" x2="1588.3" y2="1159.5"/>
<line x1="1588.3" y1="1142.3" x2="1609.5" y2="1142.3"/>
<line x1="1609.5" y1="1148.6" x2="1649.2" y2="1148.6"/>
<line x1="1475.5" y1="1173.2" x2="1513.2" y2="1173.2"/>
<line x1="1513.2" y1="1186.8" x2="1554.5" y2="1186.8"/>
<line x1="1554.5" y1="1182.3" x2="1588.3" y2="1182.3"/>
<line x1="1588.3" y1="1182.3" x2="1629.5" y2="1182.3"/>
<line x1="1389.5" y1="1153.2" x2="1431.9" y2="1153.2"/>
<line x1="1540.5" y1="1132.3" x2="1574.6" y2="1132.3"/>
<line x1="1615.9" y1="1109.5" x2="1649.2" y2="1109.5"/>
</g>
<g clip-path="url(#mc)">
<line x1="1389.9" y1="997.4" x2="1649.2" y2="997.4" stroke="#000" stroke-width="2.4"/>
<polyline points="1389.5,1166.8 1395.9,1162.3 1403.2,1166.8 1407.7,1176.8 1421.4,1178.6 1437.7,1182.6 1445.0,1181.4 1454.1,1187.7 1461.4,1183.2 1475.9,1182.6 1479.5,1189.5 1488.6,1193.2 1494.1,1201.4 1508.6,1193.2 1515.9,1197.7 1523.2,1203.2 1535.9,1198.6 1539.5,1203.2 1552.3,1195.0 1559.5,1198.6 1566.8,1202.3 1574.1,1197.7 1581.4,1203.2 1594.1,1205.9 1605.0,1202.3 1617.7,1198.6 1626.8,1199.5 1641.4,1195.4 1649.2,1200.5" fill="none" stroke="#000" stroke-width="3.2" stroke-linejoin="round" stroke-linecap="round" />
</g>
<circle cx="1519" cy="1111.7" r="6.4" fill="none" stroke="#000" stroke-width="1.6"/>
<line x1="1519" y1="1099.4" x2="1519" y2="1124.5" stroke="#000" stroke-width="1.6"/>
<line x1="1506.7" y1="1111.7" x2="1531.6" y2="1111.7" stroke="#000" stroke-width="3"/>
<rect x="1389.9" y="943.5" width="259.3" height="259.8" fill="none" stroke="#000" stroke-width="1.6"/>
<rect x="2192.6" y="1021.6" width="219.6" height="181.6" fill="#fff" stroke="#000" stroke-width="1.6"/>
<text x="2210.2" y="1049.0" font-size="18.17" font-weight="bold" fill="#111" textLength="31.2" lengthAdjust="spacingAndGlyphs">0-3</text>
<text x="2242.0" y="1049.0" font-size="12.08" font-weight="bold" fill="#111" textLength="19.6" lengthAdjust="spacingAndGlyphs">km</text>
<text x="2270.6" y="1049.0" font-size="18.17" font-weight="bold" fill="#111" textLength="46.8" lengthAdjust="spacingAndGlyphs">SRH,</text>
<text x="2338.8" y="1049.0" font-size="18.17" font-weight="bold" fill="#111" textLength="45.0" lengthAdjust="spacingAndGlyphs">BWD</text>
<text x="2210.2" y="1108.6" font-size="18.17" font-weight="bold" fill="#111" textLength="31.2" lengthAdjust="spacingAndGlyphs">0-6</text>
<text x="2242.0" y="1108.6" font-size="12.08" font-weight="bold" fill="#111" textLength="19.6" lengthAdjust="spacingAndGlyphs">km</text>
<text x="2270.6" y="1108.6" font-size="18.17" font-weight="bold" fill="#111" textLength="46.8" lengthAdjust="spacingAndGlyphs">SRH,</text>
<text x="2338.8" y="1108.6" font-size="18.17" font-weight="bold" fill="#111" textLength="45.0" lengthAdjust="spacingAndGlyphs">BWD</text>
<text x="2211.1" y="1079.5" font-size="18.17" font-weight="bold" fill="#4169e1" textLength="94.5" lengthAdjust="spacingAndGlyphs">172 m²/s²</text>
<text x="2336.1" y="1079.5" font-size="18.17" font-weight="bold" fill="#4169e1" textLength="50.3" lengthAdjust="spacingAndGlyphs">20 kt</text>
<text x="2211.1" y="1136.4" font-size="18.17" font-weight="bold" fill="#4169e1" textLength="94.5" lengthAdjust="spacingAndGlyphs">300 m²/s²</text>
<text x="2336.1" y="1136.4" font-size="18.17" font-weight="bold" fill="#4169e1" textLength="50.3" lengthAdjust="spacingAndGlyphs">43 kt</text>
<text x="2203.8" y="1166.3" font-size="18.17" font-weight="bold" fill="#111" textLength="37.8" lengthAdjust="spacingAndGlyphs">SCP</text>
<text x="2259.1" y="1166.3" font-size="18.17" font-weight="bold" fill="#111" textLength="36.9" lengthAdjust="spacingAndGlyphs">STP</text>
<text x="2316.9" y="1166.3" font-size="18.17" font-weight="bold" fill="#111" textLength="32.7" lengthAdjust="spacingAndGlyphs">EHI</text>
<text x="2371.9" y="1166.3" font-size="18.17" font-weight="bold" fill="#111" textLength="32.7" lengthAdjust="spacingAndGlyphs">EHI</text>
<text x="2312.3" y="1177.0" font-size="8.93" font-weight="bold" fill="#111" textLength="40.0" lengthAdjust="spacingAndGlyphs">0–1km</text>
<text x="2367.2" y="1177.0" font-size="8.93" font-weight="bold" fill="#111" textLength="40.0" lengthAdjust="spacingAndGlyphs">0–3km</text>
<text x="2211.1" y="1192.6" font-size="18.17" font-weight="bold" fill="#b22222" textLength="24.0" lengthAdjust="spacingAndGlyphs">14</text>
<text x="2272.6" y="1192.6" font-size="18.17" font-weight="bold" fill="#b22222" textLength="12.0" lengthAdjust="spacingAndGlyphs">4</text>
<text x="2326.9" y="1192.6" font-size="18.17" font-weight="bold" fill="#ff4500" textLength="12.0" lengthAdjust="spacingAndGlyphs">2</text>
<text x="2381.8" y="1192.6" font-size="18.17" font-weight="bold" fill="#ff4500" textLength="12.0" lengthAdjust="spacingAndGlyphs">5</text>
<rect x="1389.9" y="98.2" width="1022.6" height="1105.1" fill="none" stroke="#000" stroke-width="1.6"/>
<rect x="31.5" y="1203.4" width="892.9" height="234.0" fill="none" stroke="#000" stroke-width="1.6"/>
<text x="133.0" y="1242.8" font-size="21.47" font-weight="bold" fill="#000" textLength="112.7" lengthAdjust="spacingAndGlyphs">SR-ECAPE</text>
<text x="298.2" y="1242.8" font-size="21.47" font-weight="bold" fill="#000" textLength="59.8" lengthAdjust="spacingAndGlyphs">CAPE</text>
<text x="424.4" y="1242.8" font-size="21.47" font-weight="bold" fill="#000" textLength="74.0" lengthAdjust="spacingAndGlyphs">6CAPE</text>
<text x="565.5" y="1242.8" font-size="21.47" font-weight="bold" fill="#000" textLength="74.0" lengthAdjust="spacingAndGlyphs">3CAPE</text>
<text x="712.8" y="1242.8" font-size="21.47" font-weight="bold" fill="#000" textLength="39.8" lengthAdjust="spacingAndGlyphs">CIN</text>
<text x="840.2" y="1242.8" font-size="21.47" font-weight="bold" fill="#000" textLength="41.1" lengthAdjust="spacingAndGlyphs">LCL</text>
<text x="45.6" y="1281.8" font-size="21.47" font-weight="bold" fill="#000" textLength="38.4" lengthAdjust="spacingAndGlyphs">SB:</text>
<text x="133.0" y="1281.8" font-size="21.47" font-weight="bold" fill="#b22222" textLength="107.4" lengthAdjust="spacingAndGlyphs">3104 J/kg</text>
<text x="275.8" y="1281.8" font-size="21.47" font-weight="bold" fill="#ff4500" textLength="107.4" lengthAdjust="spacingAndGlyphs">4790 J/kg</text>
<text x="419.5" y="1281.8" font-size="21.47" font-weight="bold" fill="#ff4500" textLength="107.4" lengthAdjust="spacingAndGlyphs">1295 J/kg</text>
<text x="560.8" y="1281.8" font-size="21.47" font-weight="bold" fill="#ff4500" textLength="93.1" lengthAdjust="spacingAndGlyphs">171 J/kg</text>
<text x="693.8" y="1281.8" font-size="21.47" font-weight="bold" fill="#ff4500" textLength="87.4" lengthAdjust="spacingAndGlyphs">-11 J/kg</text>
<text x="826.0" y="1281.8" font-size="21.47" font-weight="bold" fill="#ff4500" textLength="71.2" lengthAdjust="spacingAndGlyphs">768 m</text>
<text x="45.6" y="1320.5" font-size="21.47" font-weight="bold" fill="#000" textLength="45.1" lengthAdjust="spacingAndGlyphs">MU:</text>
<text x="133.0" y="1320.5" font-size="21.47" font-weight="bold" fill="#b22222" textLength="107.4" lengthAdjust="spacingAndGlyphs">3104 J/kg</text>
<text x="275.8" y="1320.5" font-size="21.47" font-weight="bold" fill="#ff4500" textLength="107.4" lengthAdjust="spacingAndGlyphs">4790 J/kg</text>
<text x="419.5" y="1320.5" font-size="21.47" font-weight="bold" fill="#ff4500" textLength="107.4" lengthAdjust="spacingAndGlyphs">1295 J/kg</text>
<text x="560.8" y="1320.5" font-size="21.47" font-weight="bold" fill="#ff4500" textLength="93.1" lengthAdjust="spacingAndGlyphs">171 J/kg</text>
<text x="693.8" y="1320.5" font-size="21.47" font-weight="bold" fill="#ff4500" textLength="87.4" lengthAdjust="spacingAndGlyphs">-11 J/kg</text>
<text x="826.0" y="1320.5" font-size="21.47" font-weight="bold" fill="#ff4500" textLength="71.2" lengthAdjust="spacingAndGlyphs">768 m</text>
<text x="45.6" y="1359.5" font-size="21.47" font-weight="bold" fill="#000" textLength="41.5" lengthAdjust="spacingAndGlyphs">ML:</text>
<text x="133.0" y="1359.5" font-size="21.47" font-weight="bold" fill="#b22222" textLength="107.4" lengthAdjust="spacingAndGlyphs">2849 J/kg</text>
<text x="275.8" y="1359.5" font-size="21.47" font-weight="bold" fill="#ff4500" textLength="107.4" lengthAdjust="spacingAndGlyphs">4500 J/kg</text>
<text x="419.5" y="1359.5" font-size="21.47" font-weight="bold" fill="#ff4500" textLength="107.4" lengthAdjust="spacingAndGlyphs">1217 J/kg</text>
<text x="560.8" y="1359.5" font-size="21.47" font-weight="bold" fill="#ff4500" textLength="93.1" lengthAdjust="spacingAndGlyphs">145 J/kg</text>
<text x="693.8" y="1359.5" font-size="21.47" font-weight="bold" fill="#ff4500" textLength="73.1" lengthAdjust="spacingAndGlyphs">-8 J/kg</text>
<text x="826.0" y="1359.5" font-size="21.47" font-weight="bold" fill="#ff4500" textLength="71.2" lengthAdjust="spacingAndGlyphs">895 m</text>
<text x="45.6" y="1393.2" font-size="21.47" font-weight="bold" fill="#000" textLength="85.0" lengthAdjust="spacingAndGlyphs">DCAPE:</text>
<text x="144.7" y="1393.2" font-size="21.47" font-weight="bold" fill="#8fb2f0" textLength="107.4" lengthAdjust="spacingAndGlyphs">1691 J/kg</text>
<text x="45.6" y="1419.1" font-size="21.47" font-weight="bold" fill="#000" textLength="64.9" lengthAdjust="spacingAndGlyphs">DCIN:</text>
<text x="144.7" y="1419.1" font-size="21.47" font-weight="bold" fill="#8fb2f0" textLength="64.6" lengthAdjust="spacingAndGlyphs">0 J/kg</text>
<text x="288.0" y="1412.5" font-size="21.47" font-weight="bold" fill="#000" textLength="122.1" lengthAdjust="spacingAndGlyphs">MUNCAPE:</text>
<text x="414.6" y="1412.5" font-size="21.47" font-weight="bold" fill="#bc6f6f" textLength="36.2" lengthAdjust="spacingAndGlyphs">0.4</text>
<text x="496.2" y="1413.2" font-size="21.47" font-weight="bold" fill="#000" textLength="13.0" lengthAdjust="spacingAndGlyphs">Γ</text><text x="509.2" y="1413.2" font-size="13.65" font-weight="bold" fill="#000" textLength="24.6" lengthAdjust="spacingAndGlyphs">0–3</text><text x="533.8" y="1413.2" font-size="21.47" font-weight="bold" fill="#000" textLength="8.2" lengthAdjust="spacingAndGlyphs">:</text>
<text x="561.7" y="1413.2" font-size="21.47" font-weight="bold" fill="#8b4513" textLength="104.8" lengthAdjust="spacingAndGlyphs">7 Δ°C/km</text>
<text x="693.8" y="1413.2" font-size="21.47" font-weight="bold" fill="#000" textLength="13.0" lengthAdjust="spacingAndGlyphs">Γ</text><text x="706.8" y="1413.2" font-size="13.65" font-weight="bold" fill="#000" textLength="24.6" lengthAdjust="spacingAndGlyphs">3–6</text><text x="731.4" y="1413.2" font-size="21.47" font-weight="bold" fill="#000" textLength="8.2" lengthAdjust="spacingAndGlyphs">:</text>
<text x="766.1" y="1413.2" font-size="21.47" font-weight="bold" fill="#8b4513" textLength="104.8" lengthAdjust="spacingAndGlyphs">8 Δ°C/km</text>
<rect x="924.5" y="1203.9" width="329.5" height="297.5" fill="none" stroke="#000" stroke-width="1.6"/>
<text x="1041.5" y="1243.7" font-size="21.47" font-weight="bold" fill="#000" textLength="72.1" lengthAdjust="spacingAndGlyphs">RH(%)</text>
<text x="1164.7" y="1243.7" font-size="21.47" font-weight="bold" fill="#000" textLength="17.8" lengthAdjust="spacingAndGlyphs">ω</text>
<text x="946.7" y="1281.3" font-size="21.47" font-weight="bold" fill="#000" textLength="44.7" lengthAdjust="spacingAndGlyphs">0-.5</text><text x="991.4" y="1281.3" font-size="13.65" font-weight="bold" fill="#000" textLength="22.2" lengthAdjust="spacingAndGlyphs">km</text><text x="1013.6" y="1281.3" font-size="21.47" font-weight="bold" fill="#000" textLength="8.2" lengthAdjust="spacingAndGlyphs">:</text>
<line x1="946.7" y1="1259.5" x2="979.5" y2="1259.5" stroke="#000" stroke-width="1.6"/>
<text x="1046.2" y="1281.3" font-size="21.47" font-weight="bold" fill="#228b22" textLength="56.0" lengthAdjust="spacingAndGlyphs">72 %</text>
<text x="1123.4" y="1281.3" font-size="21.47" font-weight="bold" fill="#228b22" textLength="107.9" lengthAdjust="spacingAndGlyphs">17.4 g/kg</text>
<text x="946.7" y="1320.9" font-size="21.47" font-weight="bold" fill="#000" textLength="36.9" lengthAdjust="spacingAndGlyphs">0-1</text><text x="983.6" y="1320.9" font-size="13.65" font-weight="bold" fill="#000" textLength="22.2" lengthAdjust="spacingAndGlyphs">km</text><text x="1005.8" y="1320.9" font-size="21.47" font-weight="bold" fill="#000" textLength="8.2" lengthAdjust="spacingAndGlyphs">:</text>
<line x1="946.7" y1="1299.1" x2="979.5" y2="1299.1" stroke="#000" stroke-width="1.6"/>
<text x="1046.2" y="1320.9" font-size="21.47" font-weight="bold" fill="#2e922e" textLength="56.0" lengthAdjust="spacingAndGlyphs">78 %</text>
<text x="1123.4" y="1320.9" font-size="21.47" font-weight="bold" fill="#2e922e" textLength="107.9" lengthAdjust="spacingAndGlyphs">16.9 g/kg</text>
<text x="946.7" y="1359.6" font-size="21.47" font-weight="bold" fill="#000" textLength="36.9" lengthAdjust="spacingAndGlyphs">1-3</text><text x="983.6" y="1359.6" font-size="13.65" font-weight="bold" fill="#000" textLength="22.2" lengthAdjust="spacingAndGlyphs">km</text><text x="1005.8" y="1359.6" font-size="21.47" font-weight="bold" fill="#000" textLength="8.2" lengthAdjust="spacingAndGlyphs">:</text>
<line x1="946.7" y1="1337.8" x2="979.5" y2="1337.8" stroke="#000" stroke-width="1.6"/>
<text x="1046.2" y="1359.6" font-size="21.47" font-weight="bold" fill="#4ea34e" textLength="56.0" lengthAdjust="spacingAndGlyphs">56 %</text>
<text x="1123.4" y="1359.6" font-size="21.47" font-weight="bold" fill="#4ea34e" textLength="93.7" lengthAdjust="spacingAndGlyphs">8.4 g/kg</text>
<text x="946.7" y="1398.6" font-size="21.47" font-weight="bold" fill="#000" textLength="36.9" lengthAdjust="spacingAndGlyphs">3-6</text><text x="983.6" y="1398.6" font-size="13.65" font-weight="bold" fill="#000" textLength="22.2" lengthAdjust="spacingAndGlyphs">km</text><text x="1005.8" y="1398.6" font-size="21.47" font-weight="bold" fill="#000" textLength="8.2" lengthAdjust="spacingAndGlyphs">:</text>
<line x1="946.7" y1="1376.8" x2="979.5" y2="1376.8" stroke="#000" stroke-width="1.6"/>
<text x="1046.2" y="1398.6" font-size="21.47" font-weight="bold" fill="#66b066" textLength="56.0" lengthAdjust="spacingAndGlyphs">19 %</text>
<text x="1123.4" y="1398.6" font-size="21.47" font-weight="bold" fill="#66b066" textLength="93.7" lengthAdjust="spacingAndGlyphs">1.2 g/kg</text>
<text x="946.7" y="1437.3" font-size="21.47" font-weight="bold" fill="#000" textLength="36.9" lengthAdjust="spacingAndGlyphs">6-9</text><text x="983.6" y="1437.3" font-size="13.65" font-weight="bold" fill="#000" textLength="22.2" lengthAdjust="spacingAndGlyphs">km</text><text x="1005.8" y="1437.3" font-size="21.47" font-weight="bold" fill="#000" textLength="8.2" lengthAdjust="spacingAndGlyphs">:</text>
<line x1="946.7" y1="1415.5" x2="979.5" y2="1415.5" stroke="#000" stroke-width="1.6"/>
<text x="1046.2" y="1437.3" font-size="21.47" font-weight="bold" fill="#78b878" textLength="41.8" lengthAdjust="spacingAndGlyphs">5 %</text>
<text x="1123.4" y="1437.3" font-size="21.47" font-weight="bold" fill="#78b878" textLength="93.7" lengthAdjust="spacingAndGlyphs">0.1 g/kg</text>
<text x="947.8" y="1466.3" font-size="15.33" font-weight="bold" fill="#000" textLength="51.3" lengthAdjust="spacingAndGlyphs">PWAT:</text>
<text x="1025.0" y="1466.3" font-size="15.33" font-weight="bold" fill="#006400" textLength="56.5" lengthAdjust="spacingAndGlyphs">1.42 in</text>
<text x="1115.6" y="1466.3" font-size="15.33" font-weight="bold" fill="#000" textLength="33.1" lengthAdjust="spacingAndGlyphs">WB:</text>
<text x="1175.3" y="1466.3" font-size="15.33" font-weight="bold" fill="#006400" textLength="43.4" lengthAdjust="spacingAndGlyphs">23 °C</text>
<text x="947.8" y="1492.3" font-size="15.33" font-weight="bold" fill="#000" textLength="37.7" lengthAdjust="spacingAndGlyphs">FRZ:</text>
<text x="1025.0" y="1492.3" font-size="15.33" font-weight="bold" fill="#6495ed" textLength="55.8" lengthAdjust="spacingAndGlyphs">4100m</text>
<text x="1109.7" y="1492.3" font-size="15.33" font-weight="bold" fill="#000" textLength="43.2" lengthAdjust="spacingAndGlyphs">WB0:</text>
<text x="1171.0" y="1492.3" font-size="15.33" font-weight="bold" fill="#6495ed" textLength="55.8" lengthAdjust="spacingAndGlyphs">3200m</text>
<rect x="1254.5" y="1204.2" width="583.1" height="298.3" fill="none" stroke="#000" stroke-width="1.6"/>
<text x="1376.0" y="1242.6" font-size="21.47" font-weight="bold" fill="#333" textLength="54.0" lengthAdjust="spacingAndGlyphs">BWD</text>
<text x="1481.1" y="1242.6" font-size="21.47" font-weight="bold" fill="#333" textLength="47.5" lengthAdjust="spacingAndGlyphs">SRH</text>
<text x="1581.0" y="1242.6" font-size="21.47" font-weight="bold" fill="#333" textLength="53.1" lengthAdjust="spacingAndGlyphs">SRW</text>
<text x="1656.6" y="1242.6" font-size="21.47" font-weight="bold" fill="#333" textLength="69.8" lengthAdjust="spacingAndGlyphs">SWζ%</text>
<text x="1757.0" y="1242.6" font-size="21.47" font-weight="bold" fill="#333" textLength="49.4" lengthAdjust="spacingAndGlyphs">SWζ</text>
<text x="1274.8" y="1281.8" font-size="21.47" font-weight="bold" fill="#222" textLength="44.7" lengthAdjust="spacingAndGlyphs">0-.5</text><text x="1319.5" y="1281.8" font-size="13.65" font-weight="bold" fill="#222" textLength="22.2" lengthAdjust="spacingAndGlyphs">km</text><text x="1341.7" y="1281.8" font-size="21.47" font-weight="bold" fill="#222" textLength="8.2" lengthAdjust="spacingAndGlyphs">:</text>
<text x="1370.3" y="1281.8" font-size="21.47" font-weight="bold" fill="#6495ed" textLength="59.0" lengthAdjust="spacingAndGlyphs">12 kt</text>
<text x="1450.8" y="1281.8" font-size="21.47" font-weight="bold" fill="#6495ed" textLength="94.5" lengthAdjust="spacingAndGlyphs">54 m²/s²</text>
<text x="1581.0" y="1281.8" font-size="21.47" font-weight="bold" fill="#6495ed" textLength="59.0" lengthAdjust="spacingAndGlyphs">19 kt</text>
<text x="1674.0" y="1281.8" font-size="21.47" font-weight="bold" fill="#6495ed" textLength="28.4" lengthAdjust="spacingAndGlyphs">79</text>
<text x="1749.6" y="1281.8" font-size="21.47" font-weight="bold" fill="#6495ed" textLength="64.7" lengthAdjust="spacingAndGlyphs">0.012</text>
<text x="1274.8" y="1321.0" font-size="21.47" font-weight="bold" fill="#222" textLength="36.9" lengthAdjust="spacingAndGlyphs">0-1</text><text x="1311.7" y="1321.0" font-size="13.65" font-weight="bold" fill="#222" textLength="22.2" lengthAdjust="spacingAndGlyphs">km</text><text x="1333.9" y="1321.0" font-size="21.47" font-weight="bold" fill="#222" textLength="8.2" lengthAdjust="spacingAndGlyphs">:</text>
<text x="1370.3" y="1321.0" font-size="21.47" font-weight="bold" fill="#7b68ee" textLength="59.0" lengthAdjust="spacingAndGlyphs">17 kt</text>
<text x="1450.8" y="1321.0" font-size="21.47" font-weight="bold" fill="#7b68ee" textLength="94.5" lengthAdjust="spacingAndGlyphs">99 m²/s²</text>
<text x="1581.0" y="1321.0" font-size="21.47" font-weight="bold" fill="#7b68ee" textLength="59.0" lengthAdjust="spacingAndGlyphs">18 kt</text>
<text x="1674.0" y="1321.0" font-size="21.47" font-weight="bold" fill="#7b68ee" textLength="28.4" lengthAdjust="spacingAndGlyphs">89</text>
<text x="1749.6" y="1321.0" font-size="21.47" font-weight="bold" fill="#7b68ee" textLength="50.4" lengthAdjust="spacingAndGlyphs">0.01</text>
<text x="1274.8" y="1359.9" font-size="21.47" font-weight="bold" fill="#222" textLength="36.9" lengthAdjust="spacingAndGlyphs">1-3</text><text x="1311.7" y="1359.9" font-size="13.65" font-weight="bold" fill="#222" textLength="22.2" lengthAdjust="spacingAndGlyphs">km</text><text x="1333.9" y="1359.9" font-size="21.47" font-weight="bold" fill="#222" textLength="8.2" lengthAdjust="spacingAndGlyphs">:</text>
<text x="1370.3" y="1359.9" font-size="21.47" font-weight="bold" fill="#4169e1" textLength="59.0" lengthAdjust="spacingAndGlyphs">12 kt</text>
<text x="1450.8" y="1359.9" font-size="21.47" font-weight="bold" fill="#4169e1" textLength="94.5" lengthAdjust="spacingAndGlyphs">72 m²/s²</text>
<text x="1581.0" y="1359.9" font-size="21.47" font-weight="bold" fill="#4169e1" textLength="59.0" lengthAdjust="spacingAndGlyphs">19 kt</text>
<text x="1674.0" y="1359.9" font-size="21.47" font-weight="bold" fill="#4169e1" textLength="28.4" lengthAdjust="spacingAndGlyphs">68</text>
<text x="1749.6" y="1359.9" font-size="21.47" font-weight="bold" fill="#4169e1" textLength="64.7" lengthAdjust="spacingAndGlyphs">0.004</text>
<text x="1274.8" y="1398.8" font-size="21.47" font-weight="bold" fill="#222" textLength="36.9" lengthAdjust="spacingAndGlyphs">3-6</text><text x="1311.7" y="1398.8" font-size="13.65" font-weight="bold" fill="#222" textLength="22.2" lengthAdjust="spacingAndGlyphs">km</text><text x="1333.9" y="1398.8" font-size="21.47" font-weight="bold" fill="#222" textLength="8.2" lengthAdjust="spacingAndGlyphs">:</text>
<text x="1370.3" y="1398.8" font-size="21.47" font-weight="bold" fill="#0000cd" textLength="59.0" lengthAdjust="spacingAndGlyphs">31 kt</text>
<text x="1450.8" y="1398.8" font-size="21.47" font-weight="bold" fill="#0000cd" textLength="108.7" lengthAdjust="spacingAndGlyphs">127 m²/s²</text>
<text x="1581.0" y="1398.8" font-size="21.47" font-weight="bold" fill="#0000cd" textLength="59.0" lengthAdjust="spacingAndGlyphs">22 kt</text>
<text x="1674.0" y="1398.8" font-size="21.47" font-weight="bold" fill="#0000cd" textLength="28.4" lengthAdjust="spacingAndGlyphs">63</text>
<text x="1749.6" y="1398.8" font-size="21.47" font-weight="bold" fill="#0000cd" textLength="64.7" lengthAdjust="spacingAndGlyphs">0.006</text>
<text x="1274.8" y="1437.5" font-size="21.47" font-weight="bold" fill="#222" textLength="36.9" lengthAdjust="spacingAndGlyphs">6-9</text><text x="1311.7" y="1437.5" font-size="13.65" font-weight="bold" fill="#222" textLength="22.2" lengthAdjust="spacingAndGlyphs">km</text><text x="1333.9" y="1437.5" font-size="21.47" font-weight="bold" fill="#222" textLength="8.2" lengthAdjust="spacingAndGlyphs">:</text>
<text x="1370.3" y="1437.5" font-size="21.47" font-weight="bold" fill="#00008b" textLength="59.0" lengthAdjust="spacingAndGlyphs">11 kt</text>
<text x="1450.8" y="1437.5" font-size="21.47" font-weight="bold" fill="#00008b" textLength="108.7" lengthAdjust="spacingAndGlyphs">107 m²/s²</text>
<text x="1581.0" y="1437.5" font-size="21.47" font-weight="bold" fill="#00008b" textLength="59.0" lengthAdjust="spacingAndGlyphs">32 kt</text>
<text x="1674.0" y="1437.5" font-size="21.47" font-weight="bold" fill="#00008b" textLength="28.4" lengthAdjust="spacingAndGlyphs">69</text>
<text x="1749.6" y="1437.5" font-size="21.47" font-weight="bold" fill="#00008b" textLength="64.7" lengthAdjust="spacingAndGlyphs">0.006</text>
<text x="1274.8" y="1476.9" font-size="21.47" font-weight="bold" fill="#222" textLength="42.7" lengthAdjust="spacingAndGlyphs">EIL:</text>
<text x="1370.3" y="1476.9" font-size="21.47" font-weight="bold" fill="#000080" textLength="59.0" lengthAdjust="spacingAndGlyphs">25 kt</text>
<text x="1450.8" y="1476.9" font-size="21.47" font-weight="bold" fill="#000080" textLength="108.7" lengthAdjust="spacingAndGlyphs">151 m²/s²</text>
<text x="1581.0" y="1476.9" font-size="21.47" font-weight="bold" fill="#000080" textLength="59.0" lengthAdjust="spacingAndGlyphs">20 kt</text>
<text x="1674.0" y="1476.9" font-size="21.47" font-weight="bold" fill="#000080" textLength="28.4" lengthAdjust="spacingAndGlyphs">83</text>
<text x="1749.6" y="1476.9" font-size="21.47" font-weight="bold" fill="#000080" textLength="64.7" lengthAdjust="spacingAndGlyphs">0.008</text>
<clipPath id="p1"><rect x="1837.8" y="1203.9" width="142.8" height="297.8"/></clipPath>
<rect x="1837.8" y="1203.9" width="142.8" height="297.8" fill="#fff"/>
<rect x="1837.8" y="1279.6" width="142.8" height="222.1" fill="#eef5fa"/>
<g clip-path="url(#p1)"><polygon points="1837.8,1203.9 1899.8,1203.9 1837.8,1210.2 1837.8,1238.4 1891.3,1242.6 1889.2,1252.1 1954.8,1273.3 1974.9,1282.8 1940.0,1292.3 1932.6,1302.9 1899.8,1312.4 1837.8,1320.9 1837.8,1325.1 1898.8,1332.5 1905.1,1342.0 1960.1,1352.6 1932.6,1362.1 1919.9,1372.7 1950.6,1383.3 1969.6,1392.8 1976.0,1403.4 1976.0,1427.7 1970.7,1452.0 1951.6,1462.6 1899.8,1472.1 1908.3,1481.7 1950.6,1501.7 1837.8,1501.7" fill="#6495ed" fill-opacity="0.2"/>
<line x1="1837.8" y1="1452.5" x2="1980.6" y2="1452.5" stroke="#9a9a9a" stroke-width="1.2" stroke-opacity="0.8"/>
<line x1="1837.8" y1="1402.4" x2="1980.6" y2="1402.4" stroke="#9a9a9a" stroke-width="1.2" stroke-opacity="0.8"/>
<line x1="1837.8" y1="1352.3" x2="1980.6" y2="1352.3" stroke="#9a9a9a" stroke-width="1.2" stroke-opacity="0.8"/>
<line x1="1837.8" y1="1302.2" x2="1980.6" y2="1302.2" stroke="#9a9a9a" stroke-width="1.2" stroke-opacity="0.8"/>
<line x1="1837.8" y1="1252.1" x2="1980.6" y2="1252.1" stroke="#9a9a9a" stroke-width="1.2" stroke-opacity="0.8"/>
<text x="1910.0" y="1226.7" font-size="14.49" font-weight="bold" text-anchor="middle" fill="#111" textLength="127.0" lengthAdjust="spacingAndGlyphs">Streamwiseness</text>
<text x="1910.0" y="1242.6" font-size="14.49" font-weight="bold" text-anchor="middle" fill="#111" textLength="59.7" lengthAdjust="spacingAndGlyphs">of ζ (%)</text>
<polyline points="1899.8,1203.9 1837.8,1210.2 1837.8,1238.4 1891.3,1242.6 1889.2,1252.1 1954.8,1273.3 1974.9,1282.8 1940.0,1292.3 1932.6,1302.9 1899.8,1312.4 1837.8,1320.9 1837.8,1325.1 1898.8,1332.5 1905.1,1342.0 1960.1,1352.6 1932.6,1362.1 1919.9,1372.7 1950.6,1383.3 1969.6,1392.8 1976.0,1403.4" fill="none" stroke="#ff0000" stroke-width="3.2" stroke-linejoin="round" stroke-linecap="round" />
<polyline points="1976.0,1403.4 1976.0,1427.7 1970.7,1452.0 1951.6,1462.6 1899.8,1472.1 1908.3,1481.7 1950.6,1501.7" fill="none" stroke="#800080" stroke-width="3.2" stroke-linejoin="round" stroke-linecap="round" />
<text x="1853.3" y="1300.8" font-size="13.23" font-weight="bold" fill="#000" textLength="34.6" lengthAdjust="spacingAndGlyphs">2 km</text>
<text x="1853.3" y="1350.8" font-size="13.23" font-weight="bold" fill="#000" textLength="48.2" lengthAdjust="spacingAndGlyphs">1.5 km</text>
<text x="1853.3" y="1400.8" font-size="13.23" font-weight="bold" fill="#000" textLength="34.6" lengthAdjust="spacingAndGlyphs">1 km</text>
<text x="1853.3" y="1451.0" font-size="13.23" font-weight="bold" fill="#000" textLength="39.4" lengthAdjust="spacingAndGlyphs">.5 km</text>
<text x="1860.7" y="1496.5" font-size="13.86" font-weight="bold" font-style="italic" text-anchor="middle" fill="#808080" textLength="18.3" lengthAdjust="spacingAndGlyphs">50</text>
<line x1="1860.7" y1="1501.7" x2="1860.7" y2="1497.7" stroke="#000" stroke-width="1.2"/>
<text x="1907.0" y="1496.5" font-size="13.86" font-weight="bold" font-style="italic" text-anchor="middle" fill="#808080" textLength="18.3" lengthAdjust="spacingAndGlyphs">70</text>
<line x1="1907.0" y1="1501.7" x2="1907.0" y2="1497.7" stroke="#000" stroke-width="1.2"/>
<text x="1953.3" y="1496.5" font-size="13.86" font-weight="bold" font-style="italic" text-anchor="middle" fill="#808080" textLength="18.3" lengthAdjust="spacingAndGlyphs">90</text>
<line x1="1953.3" y1="1501.7" x2="1953.3" y2="1497.7" stroke="#000" stroke-width="1.2"/>
</g>
<rect x="1837.8" y="1203.9" width="142.8" height="297.8" fill="none" stroke="#000" stroke-width="1.6"/>
<clipPath id="p2"><rect x="1980.6" y="1203.9" width="143.9" height="297.8"/></clipPath>
<rect x="1980.6" y="1203.9" width="143.9" height="297.8" fill="#fff"/>
<rect x="1980.6" y="1279.6" width="143.9" height="222.1" fill="#eef5fa"/>
<g clip-path="url(#p2)">
<polygon points="1980.6,1203.9 2011.9,1203.9 2023.6,1213.0 2001.4,1221.4 1986.5,1233.1 1987.6,1262.7 1984.4,1283.9 2003.5,1301.8 1997.1,1313.5 1999.2,1334.6 1993.0,1344.0 1983.4,1352.6 2002.4,1362.1 2001.0,1406.6 1999.2,1461.6 2016.2,1472.1 2021.5,1480.6 2021.5,1501.7 1980.6,1501.7" fill="#a0a0a0" fill-opacity="0.3"/>
<polygon points="1980.6,1203.9 2003.5,1203.9 1982.3,1220.4 1986.0,1245.0 1987.6,1262.7 1984.4,1283.9 1999.2,1302.9 1984.4,1321.9 1992.9,1330.4 1992.9,1342.0 1983.4,1352.6 1998.2,1363.2 1997.0,1375.0 1999.2,1406.6 1997.1,1461.6 2007.7,1478.5 2017.2,1501.7 1980.6,1501.7" fill="#c8a050" fill-opacity="0.3"/>
<line x1="1980.6" y1="1452.5" x2="2124.5" y2="1452.5" stroke="#9a9a9a" stroke-width="1.2" stroke-opacity="0.8"/>
<line x1="1980.6" y1="1402.4" x2="2124.5" y2="1402.4" stroke="#9a9a9a" stroke-width="1.2" stroke-opacity="0.8"/>
<line x1="1980.6" y1="1352.3" x2="2124.5" y2="1352.3" stroke="#9a9a9a" stroke-width="1.2" stroke-opacity="0.8"/>
<line x1="1980.6" y1="1302.2" x2="2124.5" y2="1302.2" stroke="#9a9a9a" stroke-width="1.2" stroke-opacity="0.8"/>
<line x1="1980.6" y1="1252.1" x2="2124.5" y2="1252.1" stroke="#9a9a9a" stroke-width="1.2" stroke-opacity="0.8"/>
<rect x="2010" y="1217" width="88" height="58" fill="#fff" fill-opacity="0"/>
<text x="2053.2" y="1233.1" font-size="17.22" font-weight="bold" text-anchor="middle" fill="#111" textLength="80.2" lengthAdjust="spacingAndGlyphs">Total ζ &amp;</text>
<text x="2053.2" y="1251.1" font-size="17.22" font-weight="bold" text-anchor="middle" fill="#111" textLength="124.1" lengthAdjust="spacingAndGlyphs">Streamwise ζ</text>
<text x="2053.2" y="1268.0" font-size="17.22" font-weight="bold" text-anchor="middle" fill="#111" textLength="51.6" lengthAdjust="spacingAndGlyphs">(/sec)</text>
<polyline points="2011.9,1203.9 2023.6,1213.0 2001.4,1221.4 1986.5,1233.1 1987.6,1262.7 1984.4,1283.9 2003.5,1301.8 1997.1,1313.5 1999.2,1334.6 1993.0,1344.0 1983.4,1352.6 2002.4,1362.1 2001.0,1406.6 1999.2,1461.6 2016.2,1472.1 2021.5,1480.6 2021.5,1501.7" fill="none" stroke="#80868c" stroke-width="4" stroke-linejoin="round" stroke-linecap="round" />
<polyline points="2003.5,1203.9 1982.3,1220.4 1986.0,1245.0 1987.6,1262.7 1984.4,1283.9 1999.2,1302.9 1984.4,1321.9 1992.9,1330.4 1992.9,1342.0 1983.4,1352.6 1998.2,1363.2 1997.0,1375.0 1999.2,1406.6 1997.1,1461.6 2007.7,1478.5 2017.2,1501.7" fill="none" stroke="#f5a623" stroke-width="3.4" stroke-linejoin="round" stroke-linecap="round" style="mix-blend-mode:multiply"/>
<text x="2005.2" y="1496.5" font-size="13.86" font-weight="bold" font-style="italic" text-anchor="middle" fill="#808080" textLength="23.4" lengthAdjust="spacingAndGlyphs">.01</text>
<line x1="2005.2" y1="1501.7" x2="2005.2" y2="1497.7" stroke="#000" stroke-width="1.2"/>
<text x="2053.4" y="1496.5" font-size="13.86" font-weight="bold" font-style="italic" text-anchor="middle" fill="#808080" textLength="23.4" lengthAdjust="spacingAndGlyphs">.03</text>
<line x1="2053.4" y1="1501.7" x2="2053.4" y2="1497.7" stroke="#000" stroke-width="1.2"/>
<text x="2101.8" y="1496.5" font-size="13.86" font-weight="bold" font-style="italic" text-anchor="middle" fill="#808080" textLength="23.4" lengthAdjust="spacingAndGlyphs">.05</text>
<line x1="2101.8" y1="1501.7" x2="2101.8" y2="1497.7" stroke="#000" stroke-width="1.2"/>
</g>
<rect x="1980.6" y="1203.9" width="143.9" height="297.8" fill="none" stroke="#000" stroke-width="1.6"/>
<clipPath id="p3"><rect x="2124.5" y="1203.9" width="145.1" height="297.8"/></clipPath>
<rect x="2124.5" y="1203.9" width="145.1" height="297.8" fill="#fff"/>
<rect x="2124.5" y="1279.6" width="145.1" height="222.1" fill="#eef5fa"/>
<g clip-path="url(#p3)">
<polygon points="2124.5,1203.9 2145.4,1203.9 2162.3,1213.0 2171.8,1223.6 2177.1,1247.9 2180.3,1292.3 2157.0,1352.6 2168.7,1381.2 2170.8,1402.3 2172.9,1461.6 2165.5,1471.0 2149.6,1489.0 2143.3,1501.7 2124.5,1501.7" fill="#6495ed" fill-opacity="0.2"/>
<line x1="2124.5" y1="1452.5" x2="2269.6" y2="1452.5" stroke="#9a9a9a" stroke-width="1.2" stroke-opacity="0.8"/>
<line x1="2124.5" y1="1402.4" x2="2269.6" y2="1402.4" stroke="#9a9a9a" stroke-width="1.2" stroke-opacity="0.8"/>
<line x1="2124.5" y1="1352.3" x2="2269.6" y2="1352.3" stroke="#9a9a9a" stroke-width="1.2" stroke-opacity="0.8"/>
<line x1="2124.5" y1="1302.2" x2="2269.6" y2="1302.2" stroke="#9a9a9a" stroke-width="1.2" stroke-opacity="0.8"/>
<line x1="2124.5" y1="1252.1" x2="2269.6" y2="1252.1" stroke="#9a9a9a" stroke-width="1.2" stroke-opacity="0.8"/>
<text x="2195.7" y="1238.4" font-size="17.22" font-weight="bold" text-anchor="middle" fill="#111" textLength="137.5" lengthAdjust="spacingAndGlyphs">Storm Relative</text>
<text x="2195.7" y="1255.3" font-size="17.22" font-weight="bold" text-anchor="middle" fill="#111" textLength="96.3" lengthAdjust="spacingAndGlyphs">Wind (kts)</text>
<polyline points="2145.4,1203.9 2162.3,1213.0 2171.8,1223.6 2177.1,1247.9 2180.3,1292.3 2157.0,1352.6 2168.7,1381.2 2170.8,1402.3" fill="none" stroke="#ff0000" stroke-width="3.3" stroke-linejoin="round" stroke-linecap="round" stroke-opacity="0.8"/>
<polyline points="2170.8,1402.3 2172.9,1461.6 2165.5,1471.0 2149.6,1489.0 2143.3,1501.7" fill="none" stroke="#800080" stroke-width="3.3" stroke-linejoin="round" stroke-linecap="round" stroke-opacity="0.8"/>
<text x="2234.2" y="1398.5" font-size="13.23" font-weight="bold" fill="#000" textLength="36.6" lengthAdjust="spacingAndGlyphs">-LFC-</text>
<text x="2234.2" y="1425.2" font-size="13.23" font-weight="bold" fill="#000" textLength="35.8" lengthAdjust="spacingAndGlyphs">-LCL-</text>
<text x="2161.3" y="1496.5" font-size="13.86" font-weight="bold" font-style="italic" text-anchor="middle" fill="#808080" textLength="18.3" lengthAdjust="spacingAndGlyphs">20</text>
<line x1="2161.3" y1="1501.7" x2="2161.3" y2="1497.7" stroke="#000" stroke-width="1.2"/>
<text x="2197.6" y="1496.5" font-size="13.86" font-weight="bold" font-style="italic" text-anchor="middle" fill="#808080" textLength="18.3" lengthAdjust="spacingAndGlyphs">30</text>
<line x1="2197.6" y1="1501.7" x2="2197.6" y2="1497.7" stroke="#000" stroke-width="1.2"/>
<text x="2233.9" y="1496.5" font-size="13.86" font-weight="bold" font-style="italic" text-anchor="middle" fill="#808080" textLength="18.3" lengthAdjust="spacingAndGlyphs">40</text>
<line x1="2233.9" y1="1501.7" x2="2233.9" y2="1497.7" stroke="#000" stroke-width="1.2"/>
</g>
<rect x="2124.5" y="1203.9" width="145.1" height="297.8" fill="none" stroke="#000" stroke-width="1.6"/>
<clipPath id="p4"><rect x="2269.6" y="1203.9" width="143.0" height="297.8"/></clipPath>
<rect x="2269.6" y="1203.9" width="143.0" height="297.8" fill="#fff"/>
<rect x="2269.6" y="1279.6" width="143.0" height="222.1" fill="#eef5fa"/>
<g clip-path="url(#p4)">
<polygon points="2340.0,1274.3 2314.6,1282.8 2321.0,1298.7 2326.3,1313.5 2326.3,1324.0 2331.5,1347.3 2337.9,1364.2 2340.0,1377.0" fill="#5fa8a8" fill-opacity="0.7"/>
<polygon points="2340.0,1274.3 2360.1,1304.0 2373.9,1313.5 2376.0,1322.0 2395.0,1353.7 2406.6,1363.2 2407.7,1373.8 2412.6,1375.9 2412.6,1501.7 2340.0,1501.7" fill="#f8963a"/>
<line x1="2269.6" y1="1452.5" x2="2412.6" y2="1452.5" stroke="#9a9a9a" stroke-width="1.2" stroke-opacity="0.8"/>
<line x1="2269.6" y1="1402.4" x2="2412.6" y2="1402.4" stroke="#9a9a9a" stroke-width="1.2" stroke-opacity="0.8"/>
<line x1="2269.6" y1="1352.3" x2="2412.6" y2="1352.3" stroke="#9a9a9a" stroke-width="1.2" stroke-opacity="0.8"/>
<line x1="2269.6" y1="1302.2" x2="2412.6" y2="1302.2" stroke="#9a9a9a" stroke-width="1.2" stroke-opacity="0.8"/>
<line x1="2269.6" y1="1252.1" x2="2412.6" y2="1252.1" stroke="#9a9a9a" stroke-width="1.2" stroke-opacity="0.8"/>
<line x1="2340" y1="1203.9" x2="2340" y2="1501.7" stroke="#1f77b4" stroke-width="1.5" stroke-dasharray="1.5,2.5"/>
<text x="2340.0" y="1233.1" font-size="17.22" font-weight="bold" text-anchor="middle" fill="#111" textLength="84.1" lengthAdjust="spacingAndGlyphs">Stepwise</text>
<text x="2340.0" y="1251.1" font-size="17.22" font-weight="bold" text-anchor="middle" fill="#111" textLength="105.5" lengthAdjust="spacingAndGlyphs">CIN &amp; CAPE</text>
<text x="2340.0" y="1268.0" font-size="17.22" font-weight="bold" text-anchor="middle" fill="#111" textLength="49.7" lengthAdjust="spacingAndGlyphs">(J/kg)</text>
<g transform="translate(2290.4,1487) rotate(-45)"><text x="0.0" y="4.8" font-size="14.18" font-weight="bold" font-style="italic" text-anchor="middle" fill="#808080" textLength="33.8" lengthAdjust="spacingAndGlyphs">-200</text></g>
<line x1="2292.4" y1="1501.7" x2="2292.4" y2="1497.7" stroke="#000" stroke-width="1.2"/>
<g transform="translate(2314.3,1487) rotate(-45)"><text x="0.0" y="4.8" font-size="14.18" font-weight="bold" font-style="italic" text-anchor="middle" fill="#808080" textLength="33.8" lengthAdjust="spacingAndGlyphs">-100</text></g>
<line x1="2316.3" y1="1501.7" x2="2316.3" y2="1497.7" stroke="#000" stroke-width="1.2"/>
<g transform="translate(2338.0,1487) rotate(-45)"><text x="0.0" y="4.8" font-size="14.18" font-weight="bold" font-style="italic" text-anchor="middle" fill="#808080" textLength="9.4" lengthAdjust="spacingAndGlyphs">0</text></g>
<line x1="2340.0" y1="1501.7" x2="2340.0" y2="1497.7" stroke="#000" stroke-width="1.2"/>
<g transform="translate(2362.3,1487) rotate(-45)"><text x="0.0" y="4.8" font-size="14.18" font-weight="bold" font-style="italic" text-anchor="middle" fill="#808080" textLength="18.6" lengthAdjust="spacingAndGlyphs">1k</text></g>
<line x1="2364.3" y1="1501.7" x2="2364.3" y2="1497.7" stroke="#000" stroke-width="1.2"/>
<g transform="translate(2386.2,1487) rotate(-45)"><text x="0.0" y="4.8" font-size="14.18" font-weight="bold" font-style="italic" text-anchor="middle" fill="#808080" textLength="18.6" lengthAdjust="spacingAndGlyphs">2k</text></g>
<line x1="2388.2" y1="1501.7" x2="2388.2" y2="1497.7" stroke="#000" stroke-width="1.2"/>
</g>
<rect x="2269.6" y="1203.9" width="143.0" height="297.8" fill="none" stroke="#000" stroke-width="1.6"/>
<ellipse cx="77.1" cy="1475.8" rx="32.4" ry="31.9" fill="#e4e9f4" stroke="#1f2a3a" stroke-width="1.5"/>
<clipPath id="lg"><ellipse cx="77.1" cy="1475.8" rx="31.5" ry="31"/></clipPath><g clip-path="url(#lg)">
<line x1="40" y1="1459.3" x2="115" y2="1459.3" stroke="#cfd4dc" stroke-width="0.8"/>
<line x1="40" y1="1474.2" x2="115" y2="1474.2" stroke="#cfd4dc" stroke-width="0.8"/>
<line x1="40" y1="1493.3" x2="115" y2="1493.3" stroke="#cfd4dc" stroke-width="0.8"/>
<path d="M78.5,1447 C68,1452 67,1462 68,1470 C70,1480 82,1492 92,1504" stroke="#e8a0a0" stroke-width="0.6" fill="none" stroke-dasharray="1.5,1.5"/>
<path d="M59,1475 L66,1478 L57.5,1481.5 L65,1484 L61,1487.5 L70,1490" stroke="#a8d0a8" stroke-width="1.2" fill="none"/>
</g>
<text x="47.9" y="1472.7" font-size="11.76" font-weight="bold" fill="#000" textLength="54.8" lengthAdjust="spacingAndGlyphs">SOUNDER</text>
<path d="M80.6,1488.5 L81,1473.8 C86,1472.5 91.5,1474 90.2,1478.2 C89.2,1481.5 84,1482 80.8,1481.8" stroke="#3c8c28" stroke-width="2.1" fill="none"/>
<path d="M93.8,1473 L100,1481 L106.8,1473 M100,1481 L99.7,1488.8" stroke="#d00000" stroke-width="2.2" fill="none"/>
<line x1="58.1" y1="1498.3" x2="96.7" y2="1498.3" stroke="#222" stroke-width="1.5" stroke-dasharray="3,1.2,2,1.5"/>
<line x1="65" y1="1501.8" x2="90" y2="1501.8" stroke="#222" stroke-width="1.4" stroke-dasharray="2.5,1.5,3,1"/>
<text x="135.2" y="1470.2" font-size="29.05" font-weight="bold" fill="#a2bff2" textLength="743.8" lengthAdjust="spacingAndGlyphs">SOUNDERPY VERTICAL PROFILE ANALYSIS TOOL</text>
<text x="207.4" y="1497.0" font-size="21.79" font-weight="bold" fill="#a2bff2" textLength="598.0" lengthAdjust="spacingAndGlyphs">(C) KYLE J GILLETT | sounderpysoundings.anvil.app</text>
</svg>
</body></html>
